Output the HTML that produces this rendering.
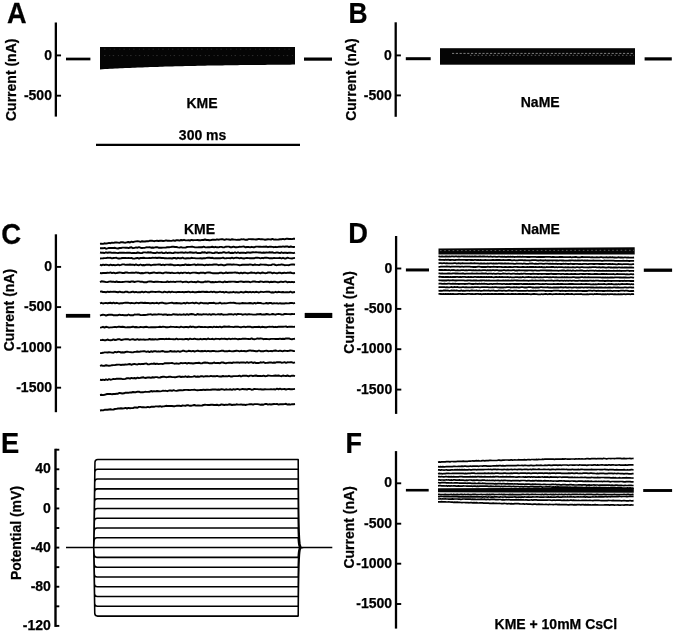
<!DOCTYPE html>
<html><head><meta charset="utf-8"><style>
html,body{margin:0;padding:0;background:#fff;}
svg{display:block;}
text{font-family:"Liberation Sans",sans-serif;font-weight:bold;fill:#000;stroke:#000;stroke-width:0.25px;}
svg{will-change:transform;}
</style></head><body>
<svg width="675" height="633" viewBox="0 0 675 633">
<text x="0" y="0" font-size="29" text-anchor="start" transform="translate(6.90 22.70) scale(0.935 1)">A</text>
<text x="0" y="0" font-size="29" text-anchor="start" transform="translate(348.40 22.50) scale(0.91 1)">B</text>
<text x="0" y="0" font-size="29" text-anchor="start" transform="translate(1.20 243.60) scale(0.95 1)">C</text>
<text x="0" y="0" font-size="29" text-anchor="start" transform="translate(348.30 242.90) scale(0.94 1)">D</text>
<text x="0" y="0" font-size="29" text-anchor="start" transform="translate(1.10 453.30) scale(0.94 1)">E</text>
<text x="0" y="0" font-size="29" text-anchor="start" transform="translate(345.40 452.90) scale(0.93 1)">F</text>
<line x1="55.85" y1="22.50" x2="55.85" y2="116.60" stroke="#000" stroke-width="2.3"/>
<line x1="55.85" y1="55.40" x2="61.05" y2="55.40" stroke="#000" stroke-width="1.9"/>
<text x="51.95" y="59.50" font-size="14" text-anchor="end">0</text>
<line x1="55.85" y1="95.70" x2="61.05" y2="95.70" stroke="#000" stroke-width="1.9"/>
<text x="51.95" y="99.80" font-size="14" text-anchor="end">-500</text>
<text x="16.20" y="79.80" font-size="14" text-anchor="middle" transform="rotate(-90 16.20 79.80)">Current (nA)</text>
<line x1="66.00" y1="59.00" x2="90.40" y2="59.00" stroke="#000" stroke-width="2.7"/>
<line x1="304.00" y1="59.10" x2="332.00" y2="59.10" stroke="#000" stroke-width="3.2"/>
<text x="202.00" y="107.50" font-size="14" text-anchor="middle">KME</text>
<text x="202.60" y="140.20" font-size="14" text-anchor="middle">300 ms</text>
<line x1="96.00" y1="144.80" x2="300.00" y2="144.80" stroke="#000" stroke-width="2.3"/>
<path d="M100,47 L295,47 L295.0,64.6 L292.5,64.6 L290.0,64.7 L287.5,64.7 L285.0,64.7 L282.5,64.7 L280.0,64.7 L277.5,64.8 L275.0,64.8 L272.5,64.8 L270.0,64.8 L267.5,64.8 L265.0,64.9 L262.5,64.9 L260.0,64.9 L257.5,64.9 L255.0,65.0 L252.5,65.0 L250.0,65.0 L247.5,65.0 L245.0,65.1 L242.5,65.1 L240.0,65.1 L237.5,65.2 L235.0,65.2 L232.5,65.2 L230.0,65.3 L227.5,65.3 L225.0,65.3 L222.5,65.4 L220.0,65.4 L217.5,65.5 L215.0,65.5 L212.5,65.5 L210.0,65.6 L207.5,65.6 L205.0,65.7 L202.5,65.7 L200.0,65.8 L197.5,65.8 L195.0,65.9 L192.5,65.9 L190.0,66.0 L187.5,66.0 L185.0,66.1 L182.5,66.2 L180.0,66.2 L177.5,66.3 L175.0,66.3 L172.5,66.4 L170.0,66.5 L167.5,66.6 L165.0,66.6 L162.5,66.7 L160.0,66.8 L157.5,66.9 L155.0,66.9 L152.5,67.0 L150.0,67.1 L147.5,67.2 L145.0,67.3 L142.5,67.4 L140.0,67.5 L137.5,67.6 L135.0,67.7 L132.5,67.8 L130.0,67.9 L127.5,68.0 L125.0,68.1 L122.5,68.2 L120.0,68.3 L117.5,68.4 L115.0,68.6 L112.5,68.7 L110.0,68.8 L107.5,69.0 L105.0,69.1 L102.5,69.3 L100.0,69.4 L100.0,69.4 Z" fill="#050505"/>
<line x1="104" y1="55.6" x2="294" y2="55.6" stroke="#fff" stroke-opacity="0.22" stroke-width="0.8" stroke-dasharray="1.5 3.7 1 2.5"/>
<line x1="104" y1="49.2" x2="294" y2="49.2" stroke="#fff" stroke-opacity="0.2" stroke-width="0.7" stroke-dasharray="1.5 4.2 1 3"/>
<line x1="395.70" y1="22.30" x2="395.70" y2="116.80" stroke="#000" stroke-width="2.3"/>
<line x1="395.70" y1="55.40" x2="400.90" y2="55.40" stroke="#000" stroke-width="1.9"/>
<text x="391.80" y="59.50" font-size="14" text-anchor="end">0</text>
<line x1="395.70" y1="95.40" x2="400.90" y2="95.40" stroke="#000" stroke-width="1.9"/>
<text x="391.80" y="99.50" font-size="14" text-anchor="end">-500</text>
<text x="356.30" y="79.60" font-size="14" text-anchor="middle" transform="rotate(-90 356.30 79.60)">Current (nA)</text>
<line x1="405.80" y1="58.70" x2="430.70" y2="58.70" stroke="#000" stroke-width="3.0"/>
<line x1="644.60" y1="58.90" x2="671.80" y2="58.90" stroke="#000" stroke-width="3.2"/>
<text x="540.20" y="107.40" font-size="14" text-anchor="middle">NaME</text>
<rect x="440" y="48.2" width="195" height="16.5" fill="#050505"/>
<line x1="452" y1="53.4" x2="634" y2="53.4" stroke="#fff" stroke-opacity="0.55" stroke-width="0.9" stroke-dasharray="2.2 1.6"/>
<line x1="470" y1="55.3" x2="634" y2="55.3" stroke="#fff" stroke-opacity="0.45" stroke-width="0.8" stroke-dasharray="1.6 2.2"/>
<line x1="55.90" y1="234.30" x2="55.90" y2="412.20" stroke="#000" stroke-width="2.3"/>
<line x1="55.90" y1="266.90" x2="61.10" y2="266.90" stroke="#000" stroke-width="1.9"/>
<text x="52.00" y="271.00" font-size="14" text-anchor="end">0</text>
<line x1="55.90" y1="307.10" x2="61.10" y2="307.10" stroke="#000" stroke-width="1.9"/>
<text x="52.00" y="311.20" font-size="14" text-anchor="end">-500</text>
<line x1="55.90" y1="347.40" x2="61.10" y2="347.40" stroke="#000" stroke-width="1.9"/>
<text x="52.00" y="351.50" font-size="14" text-anchor="end">-1000</text>
<line x1="55.90" y1="387.70" x2="61.10" y2="387.70" stroke="#000" stroke-width="1.9"/>
<text x="52.00" y="391.80" font-size="14" text-anchor="end">-1500</text>
<text x="13.90" y="310.10" font-size="14" text-anchor="middle" transform="rotate(-90 13.90 310.10)">Current (nA)</text>
<text x="199.50" y="234.00" font-size="14" text-anchor="middle">KME</text>
<line x1="65.90" y1="315.80" x2="90.20" y2="315.80" stroke="#000" stroke-width="3.8"/>
<line x1="304.70" y1="315.45" x2="332.30" y2="315.45" stroke="#000" stroke-width="5.1"/>
<polyline points="100.0,243.8 101.5,243.6 103.0,243.9 104.5,243.3 106.0,243.6 107.5,243.3 109.0,242.9 110.5,243.2 112.0,242.7 113.5,242.9 115.0,242.5 116.5,242.4 118.0,242.6 119.5,242.9 121.0,242.2 122.5,242.2 124.0,242.5 125.5,242.7 127.0,242.3 128.5,242.0 130.0,242.5 131.5,241.6 133.0,242.2 134.5,241.6 136.0,241.4 137.5,241.3 139.0,241.4 140.5,241.8 142.0,241.2 143.5,241.5 145.0,241.5 146.5,241.2 148.0,241.3 149.5,240.8 151.0,240.7 152.5,240.8 154.0,241.2 155.5,240.9 157.0,240.8 158.5,241.0 160.0,240.8 161.5,240.6 163.0,241.0 164.5,240.9 166.0,240.4 167.5,240.7 169.0,240.6 170.5,240.9 172.0,240.7 173.5,240.3 175.0,240.9 176.5,240.1 178.0,240.3 179.5,240.6 181.0,240.0 182.5,240.3 184.0,239.8 185.5,240.4 187.0,240.4 188.5,240.2 190.0,240.5 191.5,239.9 193.0,240.2 194.5,240.1 196.0,240.1 197.5,240.0 199.0,240.3 200.5,240.3 202.0,239.9 203.5,240.0 205.0,239.5 206.5,240.0 208.0,240.0 209.5,240.3 211.0,240.1 212.5,239.6 214.0,239.7 215.5,239.9 217.0,239.3 218.5,239.7 220.0,239.4 221.5,239.3 223.0,239.3 224.5,239.9 226.0,239.3 227.5,239.4 229.0,239.5 230.5,239.9 232.0,239.2 233.5,239.5 235.0,239.6 236.5,239.9 238.0,239.8 239.5,239.8 241.0,239.3 242.5,239.4 244.0,239.3 245.5,239.8 247.0,239.8 248.5,239.1 250.0,239.1 251.5,239.2 253.0,239.2 254.5,239.4 256.0,239.5 257.5,239.2 259.0,238.9 260.5,239.3 262.0,239.2 263.5,239.4 265.0,239.7 266.5,239.5 268.0,239.3 269.5,239.4 271.0,239.5 272.5,238.9 274.0,239.6 275.5,239.5 277.0,239.6 278.5,239.5 280.0,239.2 281.5,239.2 283.0,238.9 284.5,239.4 286.0,238.8 287.5,238.8 289.0,239.0 290.5,238.9 292.0,239.1 293.5,238.8 295.0,238.8" fill="none" stroke="#000" stroke-width="1.9" stroke-linejoin="round" />
<polyline points="100.0,248.2 101.5,248.1 103.0,248.3 104.5,247.9 106.0,248.7 107.5,248.4 109.0,247.9 110.5,248.0 112.0,248.0 113.5,248.0 115.0,247.8 116.5,248.4 118.0,248.5 119.5,248.0 121.0,248.0 122.5,247.6 124.0,247.6 125.5,247.7 127.0,247.6 128.5,248.1 130.0,247.5 131.5,247.3 133.0,248.2 134.5,247.8 136.0,247.4 137.5,247.7 139.0,247.2 140.5,247.7 142.0,248.0 143.5,247.9 145.0,247.7 146.5,247.3 148.0,247.4 149.5,247.2 151.0,247.7 152.5,247.5 154.0,247.7 155.5,247.3 157.0,247.2 158.5,247.7 160.0,247.8 161.5,247.7 163.0,247.6 164.5,247.6 166.0,247.5 167.5,247.1 169.0,247.3 170.5,247.1 172.0,246.8 173.5,246.8 175.0,247.0 176.5,247.0 178.0,247.4 179.5,247.6 181.0,247.1 182.5,247.6 184.0,247.6 185.5,247.6 187.0,247.0 188.5,246.9 190.0,246.9 191.5,246.8 193.0,246.8 194.5,247.2 196.0,247.4 197.5,247.4 199.0,247.1 200.5,247.2 202.0,247.3 203.5,246.7 205.0,247.2 206.5,247.4 208.0,247.3 209.5,247.2 211.0,247.0 212.5,246.7 214.0,247.3 215.5,246.8 217.0,247.3 218.5,247.4 220.0,246.9 221.5,246.9 223.0,247.4 224.5,247.2 226.0,246.7 227.5,246.6 229.0,246.6 230.5,247.3 232.0,247.2 233.5,246.6 235.0,247.2 236.5,247.3 238.0,247.1 239.5,246.8 241.0,246.9 242.5,246.6 244.0,246.5 245.5,247.3 247.0,247.0 248.5,246.9 250.0,247.3 251.5,246.8 253.0,247.2 254.5,247.2 256.0,246.6 257.5,246.6 259.0,246.7 260.5,246.6 262.0,246.9 263.5,246.6 265.0,246.8 266.5,246.5 268.0,247.2 269.5,246.7 271.0,246.8 272.5,246.9 274.0,247.2 275.5,246.8 277.0,247.2 278.5,246.8 280.0,246.8 281.5,246.8 283.0,246.4 284.5,246.8 286.0,246.5 287.5,246.4 289.0,247.1 290.5,246.5 292.0,246.8 293.5,247.0 295.0,246.9" fill="none" stroke="#000" stroke-width="1.9" stroke-linejoin="round" />
<polyline points="100.0,252.5 101.5,252.7 103.0,252.7 104.5,253.0 106.0,252.3 107.5,252.8 109.0,252.5 110.5,252.5 112.0,252.9 113.5,252.7 115.0,252.8 116.5,252.9 118.0,253.1 119.5,252.6 121.0,252.8 122.5,252.7 124.0,252.7 125.5,252.9 127.0,252.7 128.5,252.7 130.0,252.7 131.5,253.1 133.0,252.9 134.5,253.0 136.0,253.1 137.5,252.5 139.0,252.8 140.5,253.1 142.0,253.0 143.5,252.4 145.0,252.4 146.5,252.6 148.0,252.3 149.5,252.5 151.0,252.3 152.5,252.9 154.0,253.0 155.5,253.1 157.0,252.4 158.5,252.9 160.0,252.8 161.5,252.4 163.0,253.0 164.5,253.1 166.0,252.4 167.5,253.1 169.0,252.6 170.5,252.7 172.0,253.1 173.5,253.0 175.0,252.4 176.5,252.6 178.0,252.7 179.5,252.6 181.0,252.4 182.5,252.5 184.0,252.9 185.5,252.3 187.0,252.7 188.5,252.6 190.0,252.3 191.5,252.5 193.0,252.8 194.5,252.7 196.0,252.3 197.5,253.1 199.0,253.0 200.5,253.1 202.0,252.3 203.5,252.5 205.0,252.3 206.5,253.0 208.0,252.5 209.5,252.4 211.0,252.6 212.5,253.1 214.0,253.0 215.5,252.5 217.0,252.4 218.5,253.1 220.0,252.8 221.5,252.9 223.0,252.3 224.5,252.3 226.0,252.9 227.5,252.6 229.0,252.3 230.5,253.1 232.0,252.8 233.5,253.0 235.0,252.3 236.5,253.0 238.0,252.3 239.5,253.0 241.0,252.7 242.5,252.6 244.0,252.7 245.5,253.1 247.0,252.5 248.5,252.4 250.0,252.7 251.5,252.5 253.0,252.3 254.5,252.4 256.0,252.3 257.5,252.4 259.0,252.5 260.5,252.5 262.0,252.9 263.5,252.5 265.0,252.7 266.5,252.4 268.0,252.6 269.5,252.3 271.0,252.5 272.5,252.3 274.0,252.9 275.5,252.7 277.0,252.4 278.5,252.7 280.0,253.1 281.5,252.3 283.0,253.0 284.5,252.6 286.0,252.7 287.5,253.0 289.0,252.6 290.5,252.7 292.0,252.9 293.5,253.1 295.0,252.6" fill="none" stroke="#000" stroke-width="1.9" stroke-linejoin="round" />
<polyline points="100.0,258.5 101.5,258.4 103.0,258.3 104.5,258.1 106.0,258.1 107.5,257.8 109.0,257.9 110.5,257.8 112.0,258.4 113.5,258.0 115.0,257.9 116.5,257.8 118.0,258.5 119.5,258.5 121.0,258.3 122.5,258.0 124.0,257.9 125.5,258.0 127.0,258.1 128.5,257.9 130.0,258.1 131.5,257.9 133.0,258.6 134.5,258.6 136.0,258.2 137.5,257.9 139.0,258.6 140.5,258.0 142.0,258.0 143.5,257.7 145.0,258.0 146.5,258.1 148.0,258.1 149.5,257.9 151.0,258.1 152.5,257.7 154.0,257.9 155.5,257.8 157.0,258.0 158.5,257.7 160.0,257.7 161.5,258.0 163.0,257.9 164.5,258.2 166.0,258.2 167.5,258.4 169.0,258.3 170.5,258.3 172.0,258.5 173.5,258.0 175.0,258.0 176.5,258.6 178.0,257.8 179.5,258.3 181.0,258.3 182.5,257.7 184.0,258.4 185.5,258.5 187.0,258.2 188.5,258.3 190.0,258.4 191.5,257.8 193.0,258.1 194.5,258.1 196.0,258.4 197.5,258.4 199.0,258.4 200.5,258.2 202.0,258.5 203.5,258.3 205.0,258.3 206.5,257.9 208.0,257.7 209.5,257.8 211.0,258.0 212.5,257.8 214.0,258.4 215.5,258.2 217.0,258.2 218.5,258.2 220.0,258.3 221.5,258.1 223.0,257.7 224.5,258.4 226.0,258.3 227.5,258.1 229.0,258.1 230.5,258.3 232.0,257.7 233.5,258.3 235.0,257.9 236.5,257.7 238.0,257.9 239.5,258.3 241.0,257.8 242.5,258.3 244.0,258.5 245.5,258.1 247.0,258.0 248.5,258.1 250.0,258.3 251.5,258.3 253.0,258.2 254.5,258.2 256.0,257.7 257.5,257.8 259.0,257.9 260.5,258.3 262.0,257.9 263.5,258.2 265.0,257.7 266.5,257.7 268.0,257.9 269.5,258.3 271.0,258.3 272.5,258.3 274.0,257.9 275.5,258.1 277.0,258.1 278.5,258.1 280.0,257.8 281.5,258.5 283.0,257.8 284.5,258.5 286.0,258.5 287.5,257.7 289.0,258.1 290.5,258.4 292.0,258.5 293.5,258.1 295.0,257.9" fill="none" stroke="#000" stroke-width="1.9" stroke-linejoin="round" />
<polyline points="100.0,264.6 101.5,265.3 103.0,264.6 104.5,265.0 106.0,264.6 107.5,264.9 109.0,265.3 110.5,264.6 112.0,265.2 113.5,264.9 115.0,265.2 116.5,265.1 118.0,264.6 119.5,265.2 121.0,264.9 122.5,264.4 124.0,264.4 125.5,264.9 127.0,264.8 128.5,264.7 130.0,264.5 131.5,264.7 133.0,264.7 134.5,265.2 136.0,264.4 137.5,265.1 139.0,265.2 140.5,264.5 142.0,265.2 143.5,265.0 145.0,265.2 146.5,264.7 148.0,264.7 149.5,264.7 151.0,265.3 152.5,264.9 154.0,264.7 155.5,264.8 157.0,264.6 158.5,264.4 160.0,264.5 161.5,265.1 163.0,264.6 164.5,265.2 166.0,264.6 167.5,264.6 169.0,264.8 170.5,264.5 172.0,264.7 173.5,265.2 175.0,265.2 176.5,265.1 178.0,264.9 179.5,265.2 181.0,265.2 182.5,264.9 184.0,265.0 185.5,264.4 187.0,265.0 188.5,264.8 190.0,265.0 191.5,264.9 193.0,264.6 194.5,264.4 196.0,265.2 197.5,264.5 199.0,264.8 200.5,264.7 202.0,264.6 203.5,265.0 205.0,265.2 206.5,264.6 208.0,265.0 209.5,264.6 211.0,264.9 212.5,264.7 214.0,264.5 215.5,264.5 217.0,264.5 218.5,265.2 220.0,264.8 221.5,264.6 223.0,265.2 224.5,265.3 226.0,264.8 227.5,264.5 229.0,264.5 230.5,264.4 232.0,264.7 233.5,264.4 235.0,264.6 236.5,264.6 238.0,264.9 239.5,265.2 241.0,265.0 242.5,264.7 244.0,264.7 245.5,264.8 247.0,264.7 248.5,264.7 250.0,264.4 251.5,264.6 253.0,265.2 254.5,264.5 256.0,264.8 257.5,264.9 259.0,265.1 260.5,264.5 262.0,264.6 263.5,264.6 265.0,264.7 266.5,264.8 268.0,265.2 269.5,265.1 271.0,265.1 272.5,264.4 274.0,264.4 275.5,265.0 277.0,265.2 278.5,264.8 280.0,264.9 281.5,264.4 283.0,264.7 284.5,265.2 286.0,265.1 287.5,265.1 289.0,265.2 290.5,264.6 292.0,264.4 293.5,264.5 295.0,264.8" fill="none" stroke="#000" stroke-width="1.9" stroke-linejoin="round" />
<polyline points="100.0,273.0 101.5,273.2 103.0,273.0 104.5,272.9 106.0,273.0 107.5,272.8 109.0,272.9 110.5,272.4 112.0,273.1 113.5,272.6 115.0,273.2 116.5,273.0 118.0,272.7 119.5,272.5 121.0,272.6 122.5,273.0 124.0,273.0 125.5,272.5 127.0,272.5 128.5,272.9 130.0,272.9 131.5,272.7 133.0,272.6 134.5,272.9 136.0,272.4 137.5,272.7 139.0,272.8 140.5,273.3 142.0,273.0 143.5,273.2 145.0,272.8 146.5,272.6 148.0,272.6 149.5,273.3 151.0,273.0 152.5,272.7 154.0,272.4 155.5,272.9 157.0,273.0 158.5,272.8 160.0,272.6 161.5,273.0 163.0,273.3 164.5,272.6 166.0,272.5 167.5,272.7 169.0,272.8 170.5,273.0 172.0,272.6 173.5,273.1 175.0,273.1 176.5,272.9 178.0,272.6 179.5,273.3 181.0,272.7 182.5,273.2 184.0,272.6 185.5,272.6 187.0,273.1 188.5,272.7 190.0,273.3 191.5,272.9 193.0,272.6 194.5,272.6 196.0,272.8 197.5,273.0 199.0,273.3 200.5,272.6 202.0,272.8 203.5,272.6 205.0,273.3 206.5,272.6 208.0,272.5 209.5,272.5 211.0,272.8 212.5,273.2 214.0,273.2 215.5,273.1 217.0,273.3 218.5,273.3 220.0,272.7 221.5,272.6 223.0,273.3 224.5,273.1 226.0,272.5 227.5,273.0 229.0,272.8 230.5,272.8 232.0,272.7 233.5,272.6 235.0,272.4 236.5,272.7 238.0,272.8 239.5,273.3 241.0,272.6 242.5,273.3 244.0,272.6 245.5,272.8 247.0,273.2 248.5,273.2 250.0,272.8 251.5,272.5 253.0,272.9 254.5,272.8 256.0,273.3 257.5,272.6 259.0,272.8 260.5,273.3 262.0,272.5 263.5,272.8 265.0,273.2 266.5,273.1 268.0,272.5 269.5,272.5 271.0,272.5 272.5,273.3 274.0,272.7 275.5,273.1 277.0,273.3 278.5,272.8 280.0,272.7 281.5,273.3 283.0,273.0 284.5,272.7 286.0,273.1 287.5,272.7 289.0,272.7 290.5,272.5 292.0,273.1 293.5,273.3 295.0,273.0" fill="none" stroke="#000" stroke-width="1.9" stroke-linejoin="round" />
<polyline points="100.0,282.1 101.5,281.3 103.0,281.5 104.5,281.7 106.0,282.1 107.5,282.1 109.0,281.6 110.5,281.5 112.0,281.7 113.5,281.7 115.0,282.1 116.5,281.5 118.0,282.0 119.5,282.0 121.0,282.1 122.5,282.0 124.0,281.9 125.5,281.6 127.0,281.6 128.5,281.7 130.0,282.0 131.5,281.4 133.0,281.5 134.5,282.0 136.0,281.6 137.5,281.4 139.0,281.4 140.5,281.8 142.0,281.6 143.5,282.2 145.0,282.2 146.5,282.3 148.0,281.6 149.5,281.4 151.0,281.5 152.5,281.8 154.0,282.0 155.5,281.8 157.0,281.6 158.5,281.8 160.0,281.9 161.5,282.0 163.0,282.1 164.5,282.1 166.0,282.0 167.5,281.5 169.0,282.1 170.5,281.7 172.0,281.9 173.5,281.7 175.0,282.1 176.5,281.6 178.0,281.6 179.5,281.6 181.0,281.5 182.5,282.2 184.0,281.9 185.5,281.7 187.0,281.8 188.5,282.3 190.0,281.9 191.5,281.6 193.0,282.1 194.5,282.0 196.0,282.3 197.5,281.5 199.0,281.8 200.5,282.2 202.0,282.2 203.5,282.2 205.0,281.5 206.5,281.7 208.0,281.5 209.5,281.6 211.0,282.3 212.5,282.0 214.0,282.3 215.5,281.8 217.0,282.2 218.5,281.8 220.0,281.7 221.5,282.1 223.0,282.3 224.5,281.5 226.0,282.0 227.5,282.0 229.0,281.6 230.5,281.8 232.0,281.6 233.5,281.6 235.0,281.7 236.5,282.0 238.0,282.0 239.5,281.6 241.0,281.4 242.5,281.7 244.0,282.0 245.5,281.6 247.0,281.7 248.5,281.6 250.0,282.2 251.5,281.9 253.0,281.5 254.5,281.5 256.0,281.8 257.5,281.9 259.0,282.0 260.5,281.5 262.0,281.6 263.5,282.1 265.0,281.8 266.5,281.7 268.0,281.7 269.5,282.3 271.0,281.7 272.5,282.0 274.0,281.8 275.5,281.8 277.0,282.2 278.5,282.3 280.0,281.8 281.5,281.6 283.0,282.1 284.5,281.6 286.0,281.5 287.5,282.3 289.0,281.8 290.5,282.2 292.0,281.8 293.5,282.2 295.0,281.9" fill="none" stroke="#000" stroke-width="1.9" stroke-linejoin="round" />
<polyline points="100.0,291.6 101.5,291.5 103.0,292.0 104.5,292.0 106.0,292.3 107.5,291.6 109.0,292.0 110.5,291.8 112.0,291.9 113.5,291.6 115.0,291.8 116.5,292.0 118.0,292.3 119.5,291.6 121.0,292.0 122.5,292.2 124.0,292.4 125.5,291.7 127.0,291.6 128.5,292.4 130.0,292.4 131.5,292.0 133.0,291.6 134.5,292.4 136.0,291.9 137.5,292.4 139.0,292.1 140.5,292.3 142.0,291.7 143.5,292.3 145.0,291.8 146.5,291.9 148.0,292.3 149.5,292.3 151.0,291.7 152.5,291.8 154.0,291.9 155.5,292.0 157.0,291.9 158.5,291.7 160.0,291.8 161.5,292.2 163.0,292.4 164.5,291.6 166.0,292.1 167.5,292.3 169.0,291.6 170.5,292.3 172.0,291.7 173.5,292.1 175.0,292.1 176.5,292.2 178.0,291.9 179.5,292.0 181.0,292.1 182.5,292.0 184.0,292.2 185.5,292.0 187.0,292.0 188.5,291.6 190.0,292.2 191.5,292.1 193.0,291.8 194.5,292.3 196.0,292.3 197.5,292.0 199.0,291.8 200.5,292.0 202.0,291.7 203.5,291.7 205.0,292.0 206.5,291.7 208.0,292.0 209.5,292.1 211.0,291.7 212.5,292.2 214.0,291.7 215.5,292.3 217.0,292.3 218.5,292.1 220.0,291.7 221.5,292.1 223.0,292.0 224.5,292.5 226.0,291.8 227.5,292.4 229.0,292.5 230.5,292.3 232.0,292.4 233.5,291.8 235.0,292.5 236.5,292.1 238.0,292.5 239.5,292.5 241.0,291.8 242.5,292.3 244.0,292.5 245.5,291.7 247.0,292.0 248.5,292.3 250.0,291.8 251.5,292.4 253.0,291.9 254.5,292.4 256.0,291.8 257.5,292.1 259.0,292.5 260.5,291.8 262.0,291.9 263.5,292.1 265.0,291.9 266.5,291.7 268.0,291.8 269.5,291.8 271.0,292.5 272.5,292.3 274.0,292.5 275.5,291.8 277.0,292.4 278.5,291.8 280.0,292.1 281.5,292.2 283.0,292.0 284.5,292.4 286.0,292.1 287.5,292.2 289.0,292.4 290.5,291.7 292.0,292.5 293.5,292.2 295.0,292.0" fill="none" stroke="#000" stroke-width="1.9" stroke-linejoin="round" />
<polyline points="100.0,303.3 101.5,302.8 103.0,303.5 104.5,303.1 106.0,302.9 107.5,303.3 109.0,303.0 110.5,302.7 112.0,303.3 113.5,302.6 115.0,303.3 116.5,302.8 118.0,303.2 119.5,303.5 121.0,303.1 122.5,303.2 124.0,302.9 125.5,302.6 127.0,302.7 128.5,302.8 130.0,303.2 131.5,303.0 133.0,303.1 134.5,303.4 136.0,302.8 137.5,302.9 139.0,303.2 140.5,302.7 142.0,302.7 143.5,303.0 145.0,302.8 146.5,303.0 148.0,302.9 149.5,303.2 151.0,303.2 152.5,302.9 154.0,303.2 155.5,303.1 157.0,302.8 158.5,303.5 160.0,302.9 161.5,302.8 163.0,302.8 164.5,303.3 166.0,303.5 167.5,303.4 169.0,303.1 170.5,302.9 172.0,302.7 173.5,303.3 175.0,303.2 176.5,303.0 178.0,303.3 179.5,303.1 181.0,303.5 182.5,303.4 184.0,302.9 185.5,303.5 187.0,302.7 188.5,303.2 190.0,303.1 191.5,302.9 193.0,302.8 194.5,303.4 196.0,302.7 197.5,303.2 199.0,303.6 200.5,302.8 202.0,302.9 203.5,303.3 205.0,303.2 206.5,303.3 208.0,303.5 209.5,302.9 211.0,303.0 212.5,303.0 214.0,302.8 215.5,303.5 217.0,303.4 218.5,303.4 220.0,302.7 221.5,303.5 223.0,303.4 224.5,303.2 226.0,303.4 227.5,303.1 229.0,302.9 230.5,302.8 232.0,302.9 233.5,302.8 235.0,303.0 236.5,303.4 238.0,303.4 239.5,303.5 241.0,303.4 242.5,303.0 244.0,303.2 245.5,303.1 247.0,303.4 248.5,303.2 250.0,303.0 251.5,303.3 253.0,303.6 254.5,302.9 256.0,303.5 257.5,302.8 259.0,303.0 260.5,303.0 262.0,303.4 263.5,303.6 265.0,303.4 266.5,303.0 268.0,303.5 269.5,303.0 271.0,303.0 272.5,303.6 274.0,303.3 275.5,303.4 277.0,303.3 278.5,303.6 280.0,303.2 281.5,303.5 283.0,303.4 284.5,303.5 286.0,303.1 287.5,303.4 289.0,303.3 290.5,303.0 292.0,302.9 293.5,303.3 295.0,302.8" fill="none" stroke="#000" stroke-width="1.9" stroke-linejoin="round" />
<polyline points="100.0,315.7 101.5,315.0 103.0,314.8 104.5,314.9 106.0,315.6 107.5,315.0 109.0,314.8 110.5,314.7 112.0,314.7 113.5,315.3 115.0,315.2 116.5,315.2 118.0,315.2 119.5,314.6 121.0,315.1 122.5,314.9 124.0,315.2 125.5,315.2 127.0,315.3 128.5,314.5 130.0,315.2 131.5,315.2 133.0,315.3 134.5,314.5 136.0,314.6 137.5,314.5 139.0,314.4 140.5,315.1 142.0,315.1 143.5,314.9 145.0,315.0 146.5,314.9 148.0,314.5 149.5,314.4 151.0,314.3 152.5,314.9 154.0,314.4 155.5,314.5 157.0,314.6 158.5,314.2 160.0,314.4 161.5,314.4 163.0,314.8 164.5,314.5 166.0,314.4 167.5,315.0 169.0,314.6 170.5,314.9 172.0,314.7 173.5,314.1 175.0,314.5 176.5,314.5 178.0,314.8 179.5,314.4 181.0,314.7 182.5,314.6 184.0,314.3 185.5,314.8 187.0,314.1 188.5,314.8 190.0,314.2 191.5,314.0 193.0,314.2 194.5,314.7 196.0,314.9 197.5,314.0 199.0,314.5 200.5,314.4 202.0,314.7 203.5,314.2 205.0,314.4 206.5,314.3 208.0,314.7 209.5,314.2 211.0,314.8 212.5,314.2 214.0,314.2 215.5,314.6 217.0,314.4 218.5,314.1 220.0,314.5 221.5,314.0 223.0,314.7 224.5,314.6 226.0,314.6 227.5,314.5 229.0,314.3 230.5,314.3 232.0,314.3 233.5,314.7 235.0,314.0 236.5,314.7 238.0,313.9 239.5,314.1 241.0,314.1 242.5,314.7 244.0,314.4 245.5,314.2 247.0,314.7 248.5,314.1 250.0,314.3 251.5,314.4 253.0,314.6 254.5,314.6 256.0,314.5 257.5,314.2 259.0,314.2 260.5,314.0 262.0,314.6 263.5,314.5 265.0,314.5 266.5,314.0 268.0,314.3 269.5,314.6 271.0,314.4 272.5,314.0 274.0,314.3 275.5,314.7 277.0,314.1 278.5,314.0 280.0,314.1 281.5,314.5 283.0,314.6 284.5,314.0 286.0,314.0 287.5,314.1 289.0,314.1 290.5,314.3 292.0,314.0 293.5,314.1 295.0,314.0" fill="none" stroke="#000" stroke-width="1.9" stroke-linejoin="round" />
<polyline points="100.0,327.6 101.5,327.4 103.0,326.8 104.5,327.6 106.0,326.8 107.5,327.1 109.0,327.6 110.5,327.4 112.0,327.4 113.5,327.1 115.0,326.9 116.5,327.2 118.0,326.8 119.5,326.8 121.0,327.0 122.5,326.7 124.0,327.0 125.5,327.4 127.0,327.3 128.5,327.1 130.0,327.2 131.5,327.0 133.0,326.7 134.5,327.2 136.0,327.0 137.5,327.3 139.0,327.4 140.5,327.0 142.0,327.1 143.5,327.3 145.0,327.0 146.5,326.8 148.0,327.2 149.5,327.4 151.0,327.3 152.5,327.2 154.0,327.3 155.5,327.2 157.0,327.1 158.5,327.0 160.0,326.8 161.5,327.1 163.0,326.6 164.5,326.9 166.0,327.2 167.5,327.2 169.0,327.1 170.5,326.8 172.0,326.9 173.5,326.9 175.0,327.1 176.5,326.9 178.0,327.1 179.5,327.4 181.0,326.7 182.5,327.1 184.0,327.2 185.5,326.9 187.0,327.0 188.5,327.4 190.0,326.5 191.5,327.0 193.0,326.6 194.5,327.2 196.0,327.3 197.5,327.0 199.0,326.6 200.5,327.0 202.0,327.0 203.5,327.1 205.0,327.0 206.5,327.1 208.0,327.2 209.5,327.0 211.0,326.9 212.5,327.3 214.0,326.7 215.5,327.1 217.0,326.8 218.5,327.2 220.0,326.6 221.5,327.4 223.0,326.8 224.5,326.5 226.0,326.7 227.5,326.8 229.0,326.5 230.5,326.9 232.0,326.9 233.5,327.1 235.0,326.8 236.5,326.7 238.0,326.7 239.5,327.1 241.0,327.3 242.5,326.9 244.0,326.7 245.5,327.2 247.0,326.8 248.5,326.7 250.0,326.6 251.5,327.2 253.0,327.2 254.5,327.0 256.0,326.9 257.5,327.0 259.0,326.7 260.5,327.3 262.0,326.8 263.5,327.0 265.0,327.2 266.5,327.2 268.0,326.9 269.5,326.7 271.0,326.9 272.5,326.6 274.0,327.2 275.5,326.8 277.0,327.2 278.5,326.7 280.0,326.8 281.5,326.7 283.0,326.8 284.5,326.6 286.0,326.5 287.5,327.1 289.0,326.7 290.5,326.7 292.0,326.7 293.5,326.9 295.0,326.8" fill="none" stroke="#000" stroke-width="1.9" stroke-linejoin="round" />
<polyline points="100.0,340.1 101.5,340.1 103.0,339.8 104.5,340.3 106.0,340.2 107.5,339.5 109.0,340.1 110.5,340.2 112.0,340.0 113.5,339.4 115.0,340.0 116.5,339.8 118.0,339.2 119.5,339.2 121.0,340.0 122.5,339.7 124.0,339.4 125.5,339.2 127.0,339.2 128.5,339.3 130.0,339.8 131.5,339.4 133.0,339.2 134.5,339.8 136.0,339.7 137.5,339.1 139.0,339.8 140.5,339.5 142.0,339.6 143.5,339.5 145.0,339.7 146.5,339.6 148.0,339.6 149.5,339.0 151.0,339.5 152.5,339.3 154.0,339.5 155.5,339.2 157.0,339.6 158.5,339.3 160.0,339.0 161.5,339.0 163.0,338.9 164.5,339.2 166.0,338.8 167.5,339.1 169.0,338.8 170.5,339.1 172.0,339.1 173.5,339.2 175.0,339.4 176.5,338.7 178.0,339.4 179.5,339.1 181.0,339.1 182.5,339.2 184.0,339.4 185.5,338.9 187.0,339.0 188.5,339.5 190.0,338.6 191.5,339.1 193.0,339.1 194.5,338.6 196.0,339.1 197.5,339.2 199.0,339.4 200.5,338.8 202.0,339.4 203.5,339.0 205.0,339.0 206.5,339.3 208.0,338.5 209.5,339.1 211.0,339.1 212.5,338.8 214.0,339.3 215.5,338.8 217.0,338.9 218.5,338.9 220.0,339.2 221.5,338.7 223.0,338.9 224.5,338.8 226.0,339.0 227.5,339.2 229.0,338.7 230.5,339.2 232.0,338.8 233.5,338.9 235.0,338.7 236.5,338.9 238.0,339.3 239.5,339.0 241.0,339.1 242.5,338.7 244.0,338.7 245.5,338.7 247.0,338.9 248.5,339.0 250.0,339.1 251.5,338.4 253.0,339.0 254.5,339.2 256.0,338.9 257.5,338.4 259.0,338.7 260.5,338.4 262.0,338.6 263.5,339.2 265.0,338.9 266.5,339.0 268.0,339.1 269.5,339.2 271.0,338.9 272.5,338.9 274.0,338.9 275.5,339.0 277.0,338.9 278.5,339.0 280.0,338.6 281.5,339.0 283.0,338.8 284.5,339.0 286.0,338.4 287.5,338.5 289.0,338.4 290.5,339.1 292.0,339.2 293.5,338.9 295.0,338.7" fill="none" stroke="#000" stroke-width="1.9" stroke-linejoin="round" />
<polyline points="100.0,353.1 101.5,353.0 103.0,352.8 104.5,352.4 106.0,352.4 107.5,352.5 109.0,352.3 110.5,352.4 112.0,352.6 113.5,352.8 115.0,351.9 116.5,352.4 118.0,351.8 119.5,351.9 121.0,352.5 122.5,352.2 124.0,352.5 125.5,352.0 127.0,351.6 128.5,351.9 130.0,352.1 131.5,352.3 133.0,352.4 134.5,351.9 136.0,351.8 137.5,351.5 139.0,351.9 140.5,351.5 142.0,351.4 143.5,351.3 145.0,351.3 146.5,351.8 148.0,351.3 149.5,352.1 151.0,351.2 152.5,351.9 154.0,351.2 155.5,351.1 157.0,351.7 158.5,351.3 160.0,351.7 161.5,351.2 163.0,351.0 164.5,351.7 166.0,351.6 167.5,351.7 169.0,351.6 170.5,351.0 172.0,351.5 173.5,351.5 175.0,351.3 176.5,351.7 178.0,351.1 179.5,351.7 181.0,351.5 182.5,350.8 184.0,350.8 185.5,351.4 187.0,351.5 188.5,350.8 190.0,351.0 191.5,351.4 193.0,350.9 194.5,351.5 196.0,351.1 197.5,350.7 199.0,351.0 200.5,351.2 202.0,351.0 203.5,351.2 205.0,350.8 206.5,351.3 208.0,350.9 209.5,351.2 211.0,351.2 212.5,351.0 214.0,350.9 215.5,351.3 217.0,351.4 218.5,351.3 220.0,351.1 221.5,350.8 223.0,350.6 224.5,351.4 226.0,351.2 227.5,351.3 229.0,350.8 230.5,351.1 232.0,351.4 233.5,351.2 235.0,351.0 236.5,350.8 238.0,350.9 239.5,351.3 241.0,350.8 242.5,351.1 244.0,351.0 245.5,351.3 247.0,351.2 248.5,350.7 250.0,350.4 251.5,350.7 253.0,350.8 254.5,351.0 256.0,351.2 257.5,351.2 259.0,350.5 260.5,351.2 262.0,351.1 263.5,351.2 265.0,350.9 266.5,350.6 268.0,351.2 269.5,351.1 271.0,351.0 272.5,351.2 274.0,350.7 275.5,350.5 277.0,350.9 278.5,351.1 280.0,350.6 281.5,351.0 283.0,351.2 284.5,350.6 286.0,350.9 287.5,351.0 289.0,350.8 290.5,350.5 292.0,350.6 293.5,351.0 295.0,351.1" fill="none" stroke="#000" stroke-width="1.9" stroke-linejoin="round" />
<polyline points="100.0,365.8 101.5,365.3 103.0,365.9 104.5,365.8 106.0,365.2 107.5,365.5 109.0,365.7 110.5,365.6 112.0,365.2 113.5,365.1 115.0,365.1 116.5,364.7 118.0,364.6 119.5,364.6 121.0,365.0 122.5,364.6 124.0,364.7 125.5,364.5 127.0,364.6 128.5,364.2 130.0,364.0 131.5,364.8 133.0,364.2 134.5,363.9 136.0,364.4 137.5,364.5 139.0,363.8 140.5,364.2 142.0,363.9 143.5,364.0 145.0,363.6 146.5,363.5 148.0,364.4 149.5,364.2 151.0,363.8 152.5,363.9 154.0,363.5 155.5,364.0 157.0,363.6 158.5,364.1 160.0,363.9 161.5,363.9 163.0,364.0 164.5,363.3 166.0,363.1 167.5,363.2 169.0,363.2 170.5,363.1 172.0,363.0 173.5,363.4 175.0,363.7 176.5,363.3 178.0,363.7 179.5,363.6 181.0,362.9 182.5,363.3 184.0,363.1 185.5,362.9 187.0,363.6 188.5,362.9 190.0,363.2 191.5,363.2 193.0,363.5 194.5,363.2 196.0,363.0 197.5,363.0 199.0,362.7 200.5,363.4 202.0,363.4 203.5,362.7 205.0,362.5 206.5,362.7 208.0,362.8 209.5,363.3 211.0,363.3 212.5,363.2 214.0,362.5 215.5,363.1 217.0,363.0 218.5,363.0 220.0,363.3 221.5,362.4 223.0,362.5 224.5,363.0 226.0,363.2 227.5,362.9 229.0,362.6 230.5,362.8 232.0,363.0 233.5,362.4 235.0,362.6 236.5,362.5 238.0,362.4 239.5,362.7 241.0,362.4 242.5,362.5 244.0,362.4 245.5,362.8 247.0,362.2 248.5,362.9 250.0,362.4 251.5,362.2 253.0,363.0 254.5,362.4 256.0,363.0 257.5,362.9 259.0,363.0 260.5,362.3 262.0,362.6 263.5,362.2 265.0,363.0 266.5,362.9 268.0,362.7 269.5,362.5 271.0,362.4 272.5,362.9 274.0,362.5 275.5,362.7 277.0,362.2 278.5,362.3 280.0,362.1 281.5,362.7 283.0,362.6 284.5,362.2 286.0,362.9 287.5,362.3 289.0,362.4 290.5,362.2 292.0,362.3 293.5,362.8 295.0,362.4" fill="none" stroke="#000" stroke-width="1.9" stroke-linejoin="round" />
<polyline points="100.0,379.8 101.5,380.0 103.0,379.7 104.5,380.1 106.0,379.3 107.5,380.0 109.0,379.1 110.5,379.7 112.0,379.4 113.5,378.9 115.0,379.1 116.5,378.8 118.0,378.7 119.5,378.6 121.0,378.7 122.5,379.1 124.0,379.1 125.5,378.9 127.0,378.1 128.5,378.2 130.0,378.7 131.5,377.9 133.0,378.4 134.5,378.0 136.0,378.5 137.5,377.6 139.0,378.2 140.5,377.8 142.0,377.5 143.5,377.3 145.0,378.0 146.5,377.7 148.0,377.4 149.5,377.5 151.0,377.9 152.5,377.2 154.0,377.5 155.5,377.1 157.0,377.1 158.5,377.6 160.0,377.5 161.5,377.0 163.0,376.8 164.5,376.8 166.0,377.2 167.5,377.1 169.0,376.8 170.5,376.7 172.0,377.1 173.5,377.1 175.0,377.2 176.5,377.0 178.0,376.6 179.5,376.4 181.0,377.0 182.5,376.7 184.0,376.9 185.5,376.3 187.0,377.0 188.5,376.5 190.0,376.9 191.5,376.9 193.0,376.6 194.5,376.1 196.0,376.9 197.5,376.5 199.0,376.8 200.5,376.3 202.0,376.2 203.5,376.7 205.0,376.3 206.5,376.1 208.0,376.3 209.5,376.4 211.0,375.9 212.5,376.3 214.0,376.2 215.5,376.3 217.0,375.9 218.5,376.4 220.0,376.5 221.5,376.5 223.0,376.0 224.5,376.4 226.0,376.1 227.5,376.4 229.0,375.8 230.5,376.5 232.0,376.5 233.5,376.1 235.0,376.1 236.5,376.1 238.0,376.1 239.5,375.6 241.0,376.5 242.5,375.8 244.0,375.7 245.5,375.7 247.0,375.8 248.5,376.3 250.0,375.6 251.5,375.6 253.0,376.2 254.5,375.7 256.0,375.5 257.5,376.0 259.0,376.0 260.5,376.0 262.0,376.1 263.5,375.6 265.0,376.2 266.5,376.1 268.0,375.5 269.5,375.6 271.0,375.9 272.5,375.9 274.0,375.7 275.5,375.5 277.0,375.8 278.5,375.5 280.0,375.9 281.5,376.2 283.0,375.5 284.5,375.9 286.0,376.0 287.5,375.5 289.0,376.1 290.5,376.2 292.0,375.7 293.5,375.7 295.0,376.1" fill="none" stroke="#000" stroke-width="1.9" stroke-linejoin="round" />
<polyline points="100.0,395.0 101.5,394.8 103.0,395.1 104.5,394.8 106.0,394.3 107.5,394.0 109.0,394.0 110.5,393.9 112.0,394.3 113.5,394.0 115.0,394.0 116.5,393.8 118.0,393.7 119.5,392.9 121.0,393.2 122.5,393.5 124.0,393.3 125.5,392.6 127.0,392.7 128.5,392.8 130.0,392.4 131.5,392.5 133.0,392.0 134.5,392.2 136.0,392.2 137.5,391.7 139.0,391.7 140.5,392.4 142.0,392.1 143.5,392.2 145.0,391.8 146.5,391.9 148.0,391.9 149.5,391.8 151.0,391.0 152.5,391.5 154.0,391.1 155.5,391.4 157.0,391.0 158.5,391.2 160.0,391.4 161.5,391.1 163.0,390.7 164.5,390.9 166.0,390.8 167.5,391.2 169.0,390.5 170.5,390.5 172.0,390.8 173.5,390.2 175.0,390.6 176.5,390.9 178.0,390.5 179.5,390.2 181.0,390.3 182.5,390.4 184.0,390.0 185.5,389.9 187.0,389.9 188.5,390.0 190.0,390.1 191.5,389.9 193.0,389.9 194.5,389.7 196.0,390.1 197.5,390.3 199.0,390.1 200.5,390.0 202.0,390.0 203.5,389.6 205.0,390.0 206.5,389.8 208.0,389.8 209.5,389.9 211.0,389.7 212.5,389.5 214.0,389.5 215.5,389.4 217.0,389.7 218.5,389.5 220.0,389.7 221.5,389.1 223.0,389.4 224.5,389.9 226.0,389.3 227.5,389.6 229.0,389.5 230.5,389.3 232.0,389.9 233.5,389.2 235.0,389.7 236.5,389.1 238.0,389.0 239.5,389.7 241.0,389.3 242.5,388.9 244.0,389.2 245.5,389.3 247.0,389.5 248.5,388.9 250.0,389.0 251.5,389.7 253.0,389.5 254.5,388.9 256.0,389.1 257.5,389.1 259.0,389.4 260.5,389.3 262.0,389.5 263.5,389.5 265.0,389.2 266.5,389.4 268.0,389.4 269.5,389.4 271.0,389.1 272.5,389.4 274.0,389.3 275.5,389.5 277.0,388.7 278.5,389.4 280.0,388.6 281.5,389.3 283.0,389.1 284.5,389.0 286.0,389.5 287.5,389.1 289.0,389.0 290.5,389.3 292.0,389.3 293.5,389.1 295.0,388.9" fill="none" stroke="#000" stroke-width="1.9" stroke-linejoin="round" />
<polyline points="100.0,410.5 101.5,410.3 103.0,410.4 104.5,409.8 106.0,409.8 107.5,409.8 109.0,409.5 110.5,409.3 112.0,409.6 113.5,409.5 115.0,409.0 116.5,408.9 118.0,408.5 119.5,408.5 121.0,408.2 122.5,408.5 124.0,408.4 125.5,407.9 127.0,408.5 128.5,407.9 130.0,408.2 131.5,408.1 133.0,408.1 134.5,407.4 136.0,407.5 137.5,407.8 139.0,406.9 140.5,406.9 142.0,407.3 143.5,407.1 145.0,407.4 146.5,407.2 148.0,406.9 149.5,407.3 151.0,406.8 152.5,406.7 154.0,406.8 155.5,406.4 157.0,406.4 158.5,406.5 160.0,406.2 161.5,406.7 163.0,406.4 164.5,406.2 166.0,405.8 167.5,406.0 169.0,405.9 170.5,406.0 172.0,406.0 173.5,406.2 175.0,406.2 176.5,405.8 178.0,405.7 179.5,405.8 181.0,406.1 182.5,405.5 184.0,405.6 185.5,405.8 187.0,405.2 188.5,405.3 190.0,405.8 191.5,405.7 193.0,405.3 194.5,405.0 196.0,405.6 197.5,405.4 199.0,405.5 200.5,405.6 202.0,405.5 203.5,405.0 205.0,404.8 206.5,404.9 208.0,405.0 209.5,405.0 211.0,404.7 212.5,404.7 214.0,405.0 215.5,405.0 217.0,404.7 218.5,405.3 220.0,405.0 221.5,404.4 223.0,404.7 224.5,405.0 226.0,404.6 227.5,404.9 229.0,404.3 230.5,404.5 232.0,405.0 233.5,404.7 235.0,404.8 236.5,404.3 238.0,404.6 239.5,404.6 241.0,404.4 242.5,404.7 244.0,404.6 245.5,405.0 247.0,404.6 248.5,404.4 250.0,404.1 251.5,404.2 253.0,404.7 254.5,404.1 256.0,404.1 257.5,404.1 259.0,404.4 260.5,404.7 262.0,404.5 263.5,404.7 265.0,404.0 266.5,403.9 268.0,404.6 269.5,404.2 271.0,404.5 272.5,404.2 274.0,404.0 275.5,404.1 277.0,403.9 278.5,404.6 280.0,404.3 281.5,404.1 283.0,404.2 284.5,404.1 286.0,403.8 287.5,404.6 289.0,404.3 290.5,404.6 292.0,404.2 293.5,404.3 295.0,404.0" fill="none" stroke="#000" stroke-width="1.9" stroke-linejoin="round" />
<line x1="396.10" y1="236.00" x2="396.10" y2="413.90" stroke="#000" stroke-width="2.3"/>
<line x1="396.10" y1="268.50" x2="401.30" y2="268.50" stroke="#000" stroke-width="1.9"/>
<text x="392.20" y="272.60" font-size="14" text-anchor="end">0</text>
<line x1="396.10" y1="308.90" x2="401.30" y2="308.90" stroke="#000" stroke-width="1.9"/>
<text x="392.20" y="313.00" font-size="14" text-anchor="end">-500</text>
<line x1="396.10" y1="349.20" x2="401.30" y2="349.20" stroke="#000" stroke-width="1.9"/>
<text x="392.20" y="353.30" font-size="14" text-anchor="end">-1000</text>
<line x1="396.10" y1="389.60" x2="401.30" y2="389.60" stroke="#000" stroke-width="1.9"/>
<text x="392.20" y="393.70" font-size="14" text-anchor="end">-1500</text>
<text x="354.40" y="312.40" font-size="14" text-anchor="middle" transform="rotate(-90 354.40 312.40)">Current (nA)</text>
<text x="540.50" y="233.70" font-size="14" text-anchor="middle">NaME</text>
<line x1="405.90" y1="269.95" x2="429.00" y2="269.95" stroke="#000" stroke-width="3.0"/>
<line x1="643.80" y1="270.20" x2="672.10" y2="270.20" stroke="#000" stroke-width="3.3"/>
<path d="M438.5,248.4 L634.7,247.2 L634.7,254.6 L438.5,254.6 Z" fill="#050505"/>
<line x1="440" y1="250.6" x2="634" y2="250.3" stroke="#fff" stroke-opacity="0.45" stroke-width="0.8" stroke-dasharray="1.6 2.6"/>
<polyline points="438.5,256.2 439.7,256.6 440.9,256.6 442.1,256.3 443.3,256.6 444.5,256.6 445.7,256.4 446.9,256.5 448.1,256.6 449.3,256.5 450.5,256.6 451.7,256.4 452.9,256.4 454.1,256.6 455.3,256.4 456.5,256.4 457.7,256.7 458.9,256.5 460.1,256.6 461.3,256.4 462.5,256.4 463.7,256.5 464.9,256.4 466.1,256.7 467.3,256.5 468.5,256.6 469.7,256.4 470.9,256.6 472.1,256.5 473.3,256.6 474.5,256.4 475.7,256.5 476.9,256.7 478.1,256.6 479.3,256.5 480.5,256.5 481.7,256.6 482.9,256.5 484.1,256.5 485.3,256.7 486.5,256.6 487.7,256.5 488.9,256.8 490.1,256.5 491.3,256.6 492.5,256.8 493.7,256.6 494.9,256.7 496.1,256.9 497.3,256.9 498.5,256.6 499.7,256.7 500.9,256.8 502.1,256.7 503.3,256.9 504.5,256.7 505.7,257.0 506.9,256.8 508.1,256.7 509.3,256.8 510.5,256.7 511.7,256.9 512.9,256.7 514.1,257.0 515.3,256.9 516.5,256.8 517.7,256.7 518.9,256.9 520.1,256.7 521.3,257.0 522.5,256.7 523.7,256.9 524.9,256.9 526.1,256.8 527.3,257.0 528.5,256.9 529.7,257.0 530.9,256.9 532.1,256.8 533.3,256.9 534.5,256.8 535.7,256.8 536.9,257.1 538.1,256.9 539.3,257.0 540.5,256.8 541.7,257.0 542.9,256.9 544.1,257.0 545.3,256.9 546.5,256.8 547.7,256.9 548.9,256.9 550.1,256.9 551.3,257.1 552.5,257.0 553.7,257.0 554.9,257.2 556.1,257.2 557.3,257.2 558.5,257.2 559.7,256.9 560.9,257.0 562.1,256.9 563.3,257.2 564.5,257.2 565.7,257.1 566.9,257.1 568.1,257.2 569.3,257.2 570.5,257.0 571.7,257.3 572.9,257.1 574.1,257.2 575.3,257.0 576.5,257.0 577.7,257.3 578.9,257.3 580.1,257.3 581.3,257.0 582.5,257.0 583.7,257.1 584.9,257.1 586.1,257.1 587.3,257.2 588.5,257.1 589.7,257.2 590.9,257.3 592.1,257.1 593.3,257.4 594.5,257.3 595.7,257.4 596.9,257.2 598.1,257.3 599.3,257.4 600.5,257.2 601.7,257.1 602.9,257.5 604.1,257.4 605.3,257.3 606.5,257.2 607.7,257.5 608.9,257.4 610.1,257.2 611.3,257.3 612.5,257.2 613.7,257.5 614.9,257.3 616.1,257.6 617.3,257.5 618.5,257.2 619.7,257.5 620.9,257.4 622.1,257.5 623.3,257.6 624.5,257.4 625.7,257.3 626.9,257.6 628.1,257.4 629.3,257.6 630.5,257.6 631.7,257.6 632.9,257.6 634.1,257.5" fill="none" stroke="#000" stroke-width="1.8" stroke-linejoin="round" />
<polyline points="438.5,259.8 439.7,259.6 440.9,259.9 442.1,259.8 443.3,259.8 444.5,260.0 445.7,259.7 446.9,260.0 448.1,259.7 449.3,260.0 450.5,260.0 451.7,259.8 452.9,259.9 454.1,260.1 455.3,260.0 456.5,259.9 457.7,259.8 458.9,259.7 460.1,259.9 461.3,259.9 462.5,259.8 463.7,259.9 464.9,259.8 466.1,260.0 467.3,260.0 468.5,259.9 469.7,259.9 470.9,260.0 472.1,260.0 473.3,260.2 474.5,259.9 475.7,259.9 476.9,260.2 478.1,259.9 479.3,260.1 480.5,260.0 481.7,260.2 482.9,260.1 484.1,260.2 485.3,259.9 486.5,260.1 487.7,260.1 488.9,260.1 490.1,260.2 491.3,260.2 492.5,259.9 493.7,260.0 494.9,260.1 496.1,260.0 497.3,260.0 498.5,260.0 499.7,260.0 500.9,260.2 502.1,260.1 503.3,260.0 504.5,260.1 505.7,260.2 506.9,260.1 508.1,260.0 509.3,260.0 510.5,260.0 511.7,260.4 512.9,260.3 514.1,260.0 515.3,260.3 516.5,260.4 517.7,260.3 518.9,260.1 520.1,260.2 521.3,260.2 522.5,260.1 523.7,260.3 524.9,260.1 526.1,260.4 527.3,260.3 528.5,260.3 529.7,260.5 530.9,260.4 532.1,260.2 533.3,260.2 534.5,260.2 535.7,260.1 536.9,260.4 538.1,260.5 539.3,260.3 540.5,260.2 541.7,260.4 542.9,260.5 544.1,260.5 545.3,260.2 546.5,260.5 547.7,260.5 548.9,260.5 550.1,260.3 551.3,260.3 552.5,260.5 553.7,260.3 554.9,260.4 556.1,260.5 557.3,260.4 558.5,260.6 559.7,260.3 560.9,260.3 562.1,260.5 563.3,260.5 564.5,260.6 565.7,260.6 566.9,260.7 568.1,260.7 569.3,260.5 570.5,260.5 571.7,260.4 572.9,260.4 574.1,260.6 575.3,260.4 576.5,260.6 577.7,260.4 578.9,260.5 580.1,260.7 581.3,260.4 582.5,260.4 583.7,260.6 584.9,260.5 586.1,260.7 587.3,260.4 588.5,260.7 589.7,260.7 590.9,260.7 592.1,260.6 593.3,260.5 594.5,260.7 595.7,260.6 596.9,260.6 598.1,260.6 599.3,260.6 600.5,260.7 601.7,260.8 602.9,260.8 604.1,260.5 605.3,260.6 606.5,260.7 607.7,260.7 608.9,260.6 610.1,260.6 611.3,260.6 612.5,260.7 613.7,260.7 614.9,260.9 616.1,260.9 617.3,260.9 618.5,260.9 619.7,260.9 620.9,260.8 622.1,260.9 623.3,260.6 624.5,260.9 625.7,260.8 626.9,260.7 628.1,260.8 629.3,261.0 630.5,260.8 631.7,260.9 632.9,260.8 634.1,260.8" fill="none" stroke="#000" stroke-width="1.8" stroke-linejoin="round" />
<polyline points="438.5,263.4 439.7,263.1 440.9,263.1 442.1,263.3 443.3,263.2 444.5,263.1 445.7,263.3 446.9,263.2 448.1,263.3 449.3,263.3 450.5,263.3 451.7,263.3 452.9,263.3 454.1,263.2 455.3,263.2 456.5,263.5 457.7,263.4 458.9,263.2 460.1,263.5 461.3,263.3 462.5,263.2 463.7,263.4 464.9,263.3 466.1,263.4 467.3,263.4 468.5,263.3 469.7,263.4 470.9,263.2 472.1,263.4 473.3,263.4 474.5,263.2 475.7,263.4 476.9,263.3 478.1,263.4 479.3,263.6 480.5,263.5 481.7,263.5 482.9,263.6 484.1,263.3 485.3,263.7 486.5,263.6 487.7,263.3 488.9,263.6 490.1,263.4 491.3,263.4 492.5,263.7 493.7,263.5 494.9,263.6 496.1,263.4 497.3,263.6 498.5,263.4 499.7,263.4 500.9,263.5 502.1,263.4 503.3,263.6 504.5,263.4 505.7,263.5 506.9,263.7 508.1,263.5 509.3,263.7 510.5,263.6 511.7,263.7 512.9,263.6 514.1,263.8 515.3,263.8 516.5,263.5 517.7,263.7 518.9,263.6 520.1,263.7 521.3,263.7 522.5,263.8 523.7,263.5 524.9,263.6 526.1,263.8 527.3,263.8 528.5,263.8 529.7,263.5 530.9,263.7 532.1,263.5 533.3,263.7 534.5,263.8 535.7,263.6 536.9,263.9 538.1,263.8 539.3,263.6 540.5,263.6 541.7,263.7 542.9,263.9 544.1,263.8 545.3,263.6 546.5,263.6 547.7,263.6 548.9,263.9 550.1,263.6 551.3,263.8 552.5,263.7 553.7,263.9 554.9,263.8 556.1,263.7 557.3,264.0 558.5,263.8 559.7,263.9 560.9,264.0 562.1,264.0 563.3,263.6 564.5,263.8 565.7,263.7 566.9,263.9 568.1,264.0 569.3,264.0 570.5,263.7 571.7,263.8 572.9,264.0 574.1,264.0 575.3,263.9 576.5,263.9 577.7,263.8 578.9,264.1 580.1,263.9 581.3,264.1 582.5,264.0 583.7,263.8 584.9,263.9 586.1,263.8 587.3,264.1 588.5,264.0 589.7,263.8 590.9,263.8 592.1,263.9 593.3,264.0 594.5,264.0 595.7,263.9 596.9,263.9 598.1,263.8 599.3,264.0 600.5,264.0 601.7,263.8 602.9,264.0 604.1,264.2 605.3,263.9 606.5,263.9 607.7,264.1 608.9,264.0 610.1,264.0 611.3,264.1 612.5,264.0 613.7,264.1 614.9,264.1 616.1,264.3 617.3,264.3 618.5,263.9 619.7,264.1 620.9,264.2 622.1,264.3 623.3,264.2 624.5,264.2 625.7,264.2 626.9,264.1 628.1,264.1 629.3,264.3 630.5,264.3 631.7,264.3 632.9,264.2 634.1,264.1" fill="none" stroke="#000" stroke-width="1.8" stroke-linejoin="round" />
<polyline points="438.5,266.8 439.7,266.8 440.9,266.7 442.1,266.7 443.3,266.6 444.5,266.7 445.7,266.7 446.9,266.5 448.1,266.6 449.3,266.6 450.5,266.9 451.7,266.7 452.9,266.7 454.1,266.6 455.3,266.6 456.5,266.7 457.7,266.6 458.9,266.6 460.1,266.9 461.3,266.7 462.5,266.7 463.7,266.8 464.9,266.7 466.1,266.6 467.3,266.6 468.5,266.7 469.7,266.7 470.9,266.9 472.1,266.8 473.3,267.0 474.5,266.8 475.7,267.0 476.9,266.9 478.1,266.7 479.3,266.7 480.5,266.9 481.7,267.0 482.9,266.8 484.1,267.0 485.3,266.8 486.5,267.0 487.7,266.7 488.9,266.9 490.1,267.0 491.3,266.8 492.5,266.8 493.7,266.7 494.9,266.8 496.1,266.8 497.3,267.0 498.5,266.8 499.7,266.9 500.9,266.8 502.1,267.0 503.3,267.1 504.5,267.0 505.7,266.8 506.9,267.1 508.1,267.2 509.3,267.0 510.5,266.8 511.7,267.1 512.9,267.1 514.1,266.9 515.3,266.9 516.5,266.9 517.7,267.0 518.9,267.2 520.1,267.1 521.3,267.2 522.5,266.9 523.7,267.0 524.9,267.1 526.1,267.1 527.3,267.0 528.5,267.1 529.7,267.0 530.9,266.9 532.1,267.0 533.3,266.9 534.5,267.1 535.7,267.0 536.9,267.1 538.1,267.1 539.3,267.0 540.5,267.1 541.7,266.9 542.9,267.3 544.1,267.1 545.3,267.3 546.5,267.0 547.7,267.2 548.9,267.2 550.1,267.1 551.3,267.0 552.5,267.0 553.7,267.0 554.9,267.3 556.1,267.0 557.3,267.3 558.5,267.2 559.7,267.2 560.9,267.2 562.1,267.2 563.3,267.3 564.5,267.3 565.7,267.2 566.9,267.3 568.1,267.1 569.3,267.3 570.5,267.3 571.7,267.4 572.9,267.2 574.1,267.4 575.3,267.5 576.5,267.2 577.7,267.2 578.9,267.3 580.1,267.5 581.3,267.1 582.5,267.1 583.7,267.3 584.9,267.4 586.1,267.4 587.3,267.3 588.5,267.5 589.7,267.2 590.9,267.4 592.1,267.2 593.3,267.2 594.5,267.2 595.7,267.2 596.9,267.4 598.1,267.4 599.3,267.2 600.5,267.5 601.7,267.3 602.9,267.2 604.1,267.3 605.3,267.5 606.5,267.6 607.7,267.3 608.9,267.2 610.1,267.5 611.3,267.3 612.5,267.6 613.7,267.4 614.9,267.5 616.1,267.4 617.3,267.6 618.5,267.4 619.7,267.4 620.9,267.6 622.1,267.3 623.3,267.6 624.5,267.3 625.7,267.5 626.9,267.4 628.1,267.6 629.3,267.3 630.5,267.5 631.7,267.5 632.9,267.7 634.1,267.7" fill="none" stroke="#000" stroke-width="1.8" stroke-linejoin="round" />
<polyline points="438.5,270.1 439.7,270.0 440.9,270.0 442.1,270.0 443.3,270.1 444.5,270.0 445.7,270.0 446.9,270.2 448.1,270.2 449.3,270.0 450.5,270.3 451.7,270.0 452.9,270.2 454.1,270.0 455.3,270.3 456.5,270.3 457.7,270.1 458.9,270.3 460.1,270.3 461.3,270.1 462.5,270.1 463.7,270.2 464.9,270.3 466.1,270.1 467.3,270.3 468.5,270.2 469.7,270.2 470.9,270.2 472.1,270.4 473.3,270.1 474.5,270.4 475.7,270.2 476.9,270.3 478.1,270.4 479.3,270.1 480.5,270.4 481.7,270.4 482.9,270.2 484.1,270.1 485.3,270.1 486.5,270.5 487.7,270.1 488.9,270.4 490.1,270.1 491.3,270.4 492.5,270.1 493.7,270.2 494.9,270.4 496.1,270.1 497.3,270.2 498.5,270.5 499.7,270.4 500.9,270.5 502.1,270.5 503.3,270.2 504.5,270.2 505.7,270.5 506.9,270.4 508.1,270.2 509.3,270.4 510.5,270.3 511.7,270.3 512.9,270.2 514.1,270.2 515.3,270.6 516.5,270.3 517.7,270.5 518.9,270.2 520.1,270.4 521.3,270.3 522.5,270.4 523.7,270.3 524.9,270.5 526.1,270.3 527.3,270.5 528.5,270.4 529.7,270.3 530.9,270.4 532.1,270.5 533.3,270.6 534.5,270.4 535.7,270.4 536.9,270.7 538.1,270.6 539.3,270.6 540.5,270.4 541.7,270.4 542.9,270.4 544.1,270.3 545.3,270.3 546.5,270.5 547.7,270.5 548.9,270.5 550.1,270.5 551.3,270.3 552.5,270.6 553.7,270.6 554.9,270.6 556.1,270.6 557.3,270.6 558.5,270.8 559.7,270.7 560.9,270.7 562.1,270.5 563.3,270.5 564.5,270.5 565.7,270.8 566.9,270.5 568.1,270.5 569.3,270.6 570.5,270.5 571.7,270.8 572.9,270.4 574.1,270.7 575.3,270.8 576.5,270.5 577.7,270.7 578.9,270.6 580.1,270.5 581.3,270.5 582.5,270.5 583.7,270.8 584.9,270.8 586.1,270.8 587.3,270.5 588.5,270.8 589.7,270.6 590.9,270.7 592.1,270.7 593.3,270.6 594.5,270.9 595.7,270.5 596.9,270.8 598.1,270.9 599.3,270.7 600.5,270.8 601.7,270.9 602.9,270.6 604.1,270.8 605.3,270.8 606.5,270.7 607.7,270.8 608.9,270.7 610.1,270.8 611.3,270.8 612.5,270.8 613.7,270.7 614.9,270.8 616.1,270.8 617.3,270.7 618.5,270.8 619.7,270.7 620.9,271.0 622.1,270.8 623.3,270.9 624.5,270.8 625.7,270.8 626.9,270.7 628.1,270.7 629.3,271.0 630.5,270.9 631.7,270.9 632.9,270.9 634.1,271.0" fill="none" stroke="#000" stroke-width="1.8" stroke-linejoin="round" />
<polyline points="438.5,273.4 439.7,273.4 440.9,273.6 442.1,273.5 443.3,273.6 444.5,273.7 445.7,273.7 446.9,273.7 448.1,273.4 449.3,273.5 450.5,273.7 451.7,273.7 452.9,273.4 454.1,273.4 455.3,273.5 456.5,273.4 457.7,273.5 458.9,273.7 460.1,273.6 461.3,273.6 462.5,273.4 463.7,273.5 464.9,273.8 466.1,273.7 467.3,273.6 468.5,273.6 469.7,273.7 470.9,273.7 472.1,273.5 473.3,273.7 474.5,273.6 475.7,273.6 476.9,273.5 478.1,273.6 479.3,273.6 480.5,273.6 481.7,273.5 482.9,273.5 484.1,273.7 485.3,273.5 486.5,273.5 487.7,273.8 488.9,273.6 490.1,273.6 491.3,273.6 492.5,273.8 493.7,273.5 494.9,273.8 496.1,273.8 497.3,273.6 498.5,273.7 499.7,273.8 500.9,273.8 502.1,273.7 503.3,273.5 504.5,273.7 505.7,273.7 506.9,273.8 508.1,273.7 509.3,273.7 510.5,273.8 511.7,273.9 512.9,273.7 514.1,273.7 515.3,273.8 516.5,273.9 517.7,273.7 518.9,274.0 520.1,273.9 521.3,273.7 522.5,273.9 523.7,273.7 524.9,273.6 526.1,273.9 527.3,273.8 528.5,273.8 529.7,273.8 530.9,274.0 532.1,273.9 533.3,273.6 534.5,273.9 535.7,273.8 536.9,273.8 538.1,274.0 539.3,273.8 540.5,273.9 541.7,274.0 542.9,273.8 544.1,273.9 545.3,273.9 546.5,274.0 547.7,274.0 548.9,274.0 550.1,273.9 551.3,273.7 552.5,274.0 553.7,273.9 554.9,274.0 556.1,274.0 557.3,273.8 558.5,273.8 559.7,273.8 560.9,274.1 562.1,273.8 563.3,273.8 564.5,274.1 565.7,274.0 566.9,273.8 568.1,274.0 569.3,274.1 570.5,274.0 571.7,273.8 572.9,274.1 574.1,274.0 575.3,274.0 576.5,274.2 577.7,274.1 578.9,274.2 580.1,273.9 581.3,273.9 582.5,274.0 583.7,273.8 584.9,274.2 586.1,273.9 587.3,273.9 588.5,274.0 589.7,273.9 590.9,274.2 592.1,274.1 593.3,274.1 594.5,274.0 595.7,273.9 596.9,274.0 598.1,274.2 599.3,274.2 600.5,274.2 601.7,274.0 602.9,274.0 604.1,273.9 605.3,274.1 606.5,274.0 607.7,274.1 608.9,274.1 610.1,274.1 611.3,274.1 612.5,274.2 613.7,274.0 614.9,274.3 616.1,274.2 617.3,274.0 618.5,274.1 619.7,274.2 620.9,274.1 622.1,274.2 623.3,274.1 624.5,274.1 625.7,274.3 626.9,274.1 628.1,274.3 629.3,274.3 630.5,274.2 631.7,274.2 632.9,274.4 634.1,274.2" fill="none" stroke="#000" stroke-width="1.8" stroke-linejoin="round" />
<polyline points="438.5,277.1 439.7,276.7 440.9,276.9 442.1,277.0 443.3,276.8 444.5,277.1 445.7,276.8 446.9,277.0 448.1,276.8 449.3,277.1 450.5,277.0 451.7,277.1 452.9,277.0 454.1,277.0 455.3,277.0 456.5,276.9 457.7,276.9 458.9,277.1 460.1,276.8 461.3,277.2 462.5,276.9 463.7,276.8 464.9,276.8 466.1,277.1 467.3,277.2 468.5,277.0 469.7,277.1 470.9,276.9 472.1,277.2 473.3,277.1 474.5,276.9 475.7,276.9 476.9,277.1 478.1,276.9 479.3,277.2 480.5,277.0 481.7,276.9 482.9,277.1 484.1,277.0 485.3,277.1 486.5,276.9 487.7,277.2 488.9,277.0 490.1,277.2 491.3,276.9 492.5,277.2 493.7,277.3 494.9,277.1 496.1,276.9 497.3,277.1 498.5,277.2 499.7,277.0 500.9,277.1 502.1,277.0 503.3,277.1 504.5,277.2 505.7,277.1 506.9,277.2 508.1,277.0 509.3,277.3 510.5,277.0 511.7,277.3 512.9,277.4 514.1,277.3 515.3,277.2 516.5,277.1 517.7,277.1 518.9,277.3 520.1,277.2 521.3,277.4 522.5,277.0 523.7,277.2 524.9,277.3 526.1,277.2 527.3,277.2 528.5,277.0 529.7,277.1 530.9,277.1 532.1,277.4 533.3,277.4 534.5,277.1 535.7,277.4 536.9,277.0 538.1,277.3 539.3,277.4 540.5,277.2 541.7,277.4 542.9,277.3 544.1,277.1 545.3,277.2 546.5,277.2 547.7,277.2 548.9,277.4 550.1,277.1 551.3,277.4 552.5,277.2 553.7,277.1 554.9,277.3 556.1,277.1 557.3,277.3 558.5,277.4 559.7,277.3 560.9,277.3 562.1,277.1 563.3,277.3 564.5,277.2 565.7,277.4 566.9,277.2 568.1,277.4 569.3,277.3 570.5,277.3 571.7,277.4 572.9,277.2 574.1,277.2 575.3,277.5 576.5,277.3 577.7,277.5 578.9,277.5 580.1,277.4 581.3,277.2 582.5,277.2 583.7,277.5 584.9,277.2 586.1,277.4 587.3,277.4 588.5,277.2 589.7,277.4 590.9,277.3 592.1,277.4 593.3,277.4 594.5,277.4 595.7,277.3 596.9,277.4 598.1,277.3 599.3,277.3 600.5,277.3 601.7,277.6 602.9,277.4 604.1,277.6 605.3,277.3 606.5,277.6 607.7,277.5 608.9,277.6 610.1,277.5 611.3,277.5 612.5,277.4 613.7,277.6 614.9,277.3 616.1,277.4 617.3,277.3 618.5,277.4 619.7,277.5 620.9,277.4 622.1,277.7 623.3,277.3 624.5,277.5 625.7,277.4 626.9,277.6 628.1,277.6 629.3,277.6 630.5,277.4 631.7,277.4 632.9,277.6 634.1,277.7" fill="none" stroke="#000" stroke-width="1.8" stroke-linejoin="round" />
<polyline points="438.5,280.2 439.7,280.4 440.9,280.4 442.1,280.5 443.3,280.3 444.5,280.5 445.7,280.3 446.9,280.5 448.1,280.2 449.3,280.5 450.5,280.3 451.7,280.3 452.9,280.2 454.1,280.3 455.3,280.5 456.5,280.5 457.7,280.3 458.9,280.3 460.1,280.3 461.3,280.3 462.5,280.3 463.7,280.3 464.9,280.6 466.1,280.6 467.3,280.5 468.5,280.4 469.7,280.4 470.9,280.5 472.1,280.6 473.3,280.5 474.5,280.5 475.7,280.3 476.9,280.5 478.1,280.6 479.3,280.6 480.5,280.3 481.7,280.5 482.9,280.4 484.1,280.3 485.3,280.7 486.5,280.5 487.7,280.6 488.9,280.3 490.1,280.6 491.3,280.7 492.5,280.7 493.7,280.6 494.9,280.6 496.1,280.6 497.3,280.5 498.5,280.5 499.7,280.6 500.9,280.6 502.1,280.7 503.3,280.4 504.5,280.7 505.7,280.5 506.9,280.7 508.1,280.4 509.3,280.7 510.5,280.7 511.7,280.4 512.9,280.7 514.1,280.4 515.3,280.4 516.5,280.5 517.7,280.5 518.9,280.6 520.1,280.7 521.3,280.6 522.5,280.7 523.7,280.5 524.9,280.7 526.1,280.7 527.3,280.7 528.5,280.8 529.7,280.7 530.9,280.6 532.1,280.4 533.3,280.7 534.5,280.7 535.7,280.5 536.9,280.6 538.1,280.7 539.3,280.7 540.5,280.4 541.7,280.6 542.9,280.4 544.1,280.5 545.3,280.8 546.5,280.6 547.7,280.7 548.9,280.6 550.1,280.6 551.3,280.5 552.5,280.6 553.7,280.8 554.9,280.7 556.1,280.6 557.3,280.5 558.5,280.6 559.7,280.8 560.9,280.7 562.1,280.7 563.3,280.8 564.5,280.5 565.7,280.8 566.9,280.5 568.1,280.8 569.3,280.6 570.5,280.6 571.7,280.9 572.9,280.7 574.1,280.6 575.3,280.9 576.5,280.8 577.7,280.9 578.9,280.7 580.1,280.7 581.3,280.9 582.5,280.7 583.7,280.9 584.9,280.6 586.1,280.9 587.3,280.6 588.5,280.8 589.7,280.6 590.9,280.6 592.1,280.9 593.3,280.7 594.5,280.9 595.7,280.7 596.9,280.7 598.1,280.6 599.3,280.8 600.5,280.9 601.7,280.8 602.9,280.7 604.1,281.0 605.3,281.0 606.5,280.9 607.7,280.6 608.9,280.9 610.1,280.8 611.3,281.0 612.5,280.8 613.7,280.9 614.9,280.9 616.1,280.8 617.3,280.8 618.5,280.9 619.7,281.0 620.9,280.8 622.1,280.8 623.3,281.0 624.5,280.7 625.7,281.0 626.9,280.9 628.1,280.9 629.3,280.8 630.5,281.0 631.7,281.0 632.9,281.0 634.1,281.0" fill="none" stroke="#000" stroke-width="1.8" stroke-linejoin="round" />
<polyline points="438.5,283.6 439.7,283.7 440.9,283.6 442.1,283.9 443.3,283.9 444.5,283.6 445.7,283.8 446.9,283.8 448.1,283.6 449.3,283.7 450.5,283.9 451.7,283.8 452.9,283.7 454.1,283.9 455.3,283.7 456.5,283.8 457.7,283.8 458.9,284.0 460.1,283.9 461.3,283.9 462.5,283.9 463.7,283.8 464.9,284.0 466.1,283.9 467.3,283.9 468.5,283.7 469.7,283.7 470.9,283.9 472.1,284.0 473.3,284.0 474.5,283.8 475.7,283.7 476.9,283.9 478.1,284.0 479.3,283.7 480.5,284.0 481.7,283.7 482.9,283.8 484.1,283.7 485.3,283.8 486.5,283.8 487.7,284.1 488.9,284.1 490.1,283.8 491.3,283.8 492.5,284.1 493.7,283.8 494.9,283.8 496.1,283.9 497.3,283.7 498.5,283.8 499.7,283.9 500.9,283.9 502.1,284.1 503.3,283.8 504.5,283.8 505.7,284.1 506.9,283.9 508.1,284.1 509.3,284.0 510.5,284.0 511.7,283.9 512.9,283.8 514.1,284.0 515.3,283.9 516.5,284.0 517.7,284.0 518.9,284.0 520.1,283.9 521.3,283.9 522.5,284.1 523.7,284.0 524.9,283.9 526.1,284.0 527.3,283.9 528.5,284.1 529.7,283.8 530.9,284.1 532.1,284.0 533.3,283.9 534.5,284.2 535.7,283.9 536.9,283.9 538.1,283.8 539.3,284.0 540.5,284.1 541.7,284.1 542.9,284.0 544.1,284.1 545.3,283.9 546.5,283.9 547.7,284.1 548.9,284.2 550.1,284.1 551.3,284.1 552.5,284.1 553.7,284.0 554.9,284.2 556.1,284.1 557.3,284.0 558.5,284.0 559.7,284.2 560.9,284.0 562.1,283.9 563.3,284.2 564.5,284.1 565.7,284.1 566.9,284.1 568.1,284.2 569.3,283.9 570.5,284.0 571.7,283.9 572.9,284.0 574.1,284.1 575.3,284.2 576.5,284.2 577.7,284.1 578.9,284.1 580.1,284.1 581.3,284.0 582.5,284.2 583.7,284.2 584.9,284.2 586.1,284.0 587.3,284.2 588.5,284.2 589.7,284.1 590.9,284.3 592.1,284.3 593.3,284.2 594.5,284.3 595.7,284.2 596.9,284.3 598.1,284.0 599.3,284.2 600.5,284.2 601.7,284.2 602.9,284.1 604.1,284.0 605.3,284.2 606.5,284.3 607.7,284.1 608.9,284.0 610.1,284.1 611.3,284.0 612.5,284.2 613.7,284.4 614.9,284.3 616.1,284.1 617.3,284.3 618.5,284.0 619.7,284.3 620.9,284.1 622.1,284.0 623.3,284.2 624.5,284.1 625.7,284.1 626.9,284.0 628.1,284.2 629.3,284.2 630.5,284.3 631.7,284.0 632.9,284.3 634.1,284.1" fill="none" stroke="#000" stroke-width="1.8" stroke-linejoin="round" />
<polyline points="438.5,287.1 439.7,287.2 440.9,287.1 442.1,287.1 443.3,287.2 444.5,287.1 445.7,287.3 446.9,287.1 448.1,287.3 449.3,287.3 450.5,287.2 451.7,287.0 452.9,287.3 454.1,287.0 455.3,287.2 456.5,287.2 457.7,287.0 458.9,287.3 460.1,287.3 461.3,287.3 462.5,287.2 463.7,287.2 464.9,287.3 466.1,287.1 467.3,287.4 468.5,287.4 469.7,287.4 470.9,287.4 472.1,287.2 473.3,287.4 474.5,287.1 475.7,287.2 476.9,287.1 478.1,287.2 479.3,287.3 480.5,287.3 481.7,287.2 482.9,287.2 484.1,287.1 485.3,287.2 486.5,287.2 487.7,287.2 488.9,287.4 490.1,287.3 491.3,287.3 492.5,287.2 493.7,287.4 494.9,287.2 496.1,287.2 497.3,287.3 498.5,287.4 499.7,287.5 500.9,287.4 502.1,287.5 503.3,287.5 504.5,287.4 505.7,287.4 506.9,287.1 508.1,287.2 509.3,287.1 510.5,287.5 511.7,287.4 512.9,287.4 514.1,287.2 515.3,287.3 516.5,287.2 517.7,287.4 518.9,287.5 520.1,287.3 521.3,287.2 522.5,287.2 523.7,287.3 524.9,287.5 526.1,287.5 527.3,287.3 528.5,287.2 529.7,287.2 530.9,287.2 532.1,287.5 533.3,287.4 534.5,287.6 535.7,287.5 536.9,287.5 538.1,287.4 539.3,287.5 540.5,287.2 541.7,287.2 542.9,287.4 544.1,287.4 545.3,287.3 546.5,287.3 547.7,287.2 548.9,287.6 550.1,287.5 551.3,287.6 552.5,287.6 553.7,287.4 554.9,287.5 556.1,287.4 557.3,287.5 558.5,287.5 559.7,287.3 560.9,287.2 562.1,287.3 563.3,287.5 564.5,287.4 565.7,287.2 566.9,287.6 568.1,287.5 569.3,287.4 570.5,287.3 571.7,287.6 572.9,287.5 574.1,287.3 575.3,287.4 576.5,287.5 577.7,287.6 578.9,287.4 580.1,287.5 581.3,287.3 582.5,287.4 583.7,287.6 584.9,287.4 586.1,287.3 587.3,287.5 588.5,287.3 589.7,287.4 590.9,287.5 592.1,287.5 593.3,287.5 594.5,287.6 595.7,287.5 596.9,287.3 598.1,287.6 599.3,287.3 600.5,287.5 601.7,287.5 602.9,287.6 604.1,287.6 605.3,287.4 606.5,287.6 607.7,287.6 608.9,287.5 610.1,287.4 611.3,287.7 612.5,287.6 613.7,287.3 614.9,287.4 616.1,287.7 617.3,287.4 618.5,287.5 619.7,287.6 620.9,287.7 622.1,287.6 623.3,287.6 624.5,287.4 625.7,287.4 626.9,287.7 628.1,287.7 629.3,287.4 630.5,287.4 631.7,287.5 632.9,287.7 634.1,287.4" fill="none" stroke="#000" stroke-width="1.8" stroke-linejoin="round" />
<polyline points="438.5,290.7 439.7,290.8 440.9,290.7 442.1,290.8 443.3,290.5 444.5,290.5 445.7,290.4 446.9,290.7 448.1,290.5 449.3,290.8 450.5,290.7 451.7,290.5 452.9,290.7 454.1,290.5 455.3,290.6 456.5,290.5 457.7,290.7 458.9,290.8 460.1,290.8 461.3,290.4 462.5,290.8 463.7,290.7 464.9,290.8 466.1,290.6 467.3,290.7 468.5,290.7 469.7,290.8 470.9,290.5 472.1,290.5 473.3,290.7 474.5,290.6 475.7,290.6 476.9,290.5 478.1,290.8 479.3,290.5 480.5,290.8 481.7,290.8 482.9,290.7 484.1,290.5 485.3,290.7 486.5,290.6 487.7,290.6 488.9,290.5 490.1,290.9 491.3,290.7 492.5,290.6 493.7,290.5 494.9,290.8 496.1,290.8 497.3,290.8 498.5,290.5 499.7,290.6 500.9,290.6 502.1,290.8 503.3,290.6 504.5,290.7 505.7,290.9 506.9,290.8 508.1,290.5 509.3,290.5 510.5,290.6 511.7,290.8 512.9,290.8 514.1,290.7 515.3,290.7 516.5,290.7 517.7,290.8 518.9,290.8 520.1,290.9 521.3,290.8 522.5,290.8 523.7,290.9 524.9,290.9 526.1,290.8 527.3,290.5 528.5,290.8 529.7,290.9 530.9,290.7 532.1,290.9 533.3,290.6 534.5,290.9 535.7,290.7 536.9,290.8 538.1,290.7 539.3,290.7 540.5,290.7 541.7,290.7 542.9,290.6 544.1,290.7 545.3,291.0 546.5,290.8 547.7,290.9 548.9,290.9 550.1,290.9 551.3,291.0 552.5,290.9 553.7,290.7 554.9,290.7 556.1,290.7 557.3,290.6 558.5,290.7 559.7,290.9 560.9,291.0 562.1,290.7 563.3,290.9 564.5,290.9 565.7,291.0 566.9,290.9 568.1,290.8 569.3,290.6 570.5,290.9 571.7,290.7 572.9,290.9 574.1,290.8 575.3,290.8 576.5,291.0 577.7,290.7 578.9,290.8 580.1,290.9 581.3,290.8 582.5,291.0 583.7,290.8 584.9,291.0 586.1,290.9 587.3,291.0 588.5,290.7 589.7,290.7 590.9,290.7 592.1,291.0 593.3,290.6 594.5,290.7 595.7,290.9 596.9,291.0 598.1,290.7 599.3,290.8 600.5,290.9 601.7,290.9 602.9,291.0 604.1,291.0 605.3,290.8 606.5,290.8 607.7,290.7 608.9,290.9 610.1,290.7 611.3,290.8 612.5,291.1 613.7,290.9 614.9,290.9 616.1,290.9 617.3,290.9 618.5,291.0 619.7,290.8 620.9,290.7 622.1,290.7 623.3,290.7 624.5,290.8 625.7,290.7 626.9,290.7 628.1,290.9 629.3,291.1 630.5,291.0 631.7,290.8 632.9,291.0 634.1,290.8" fill="none" stroke="#000" stroke-width="1.8" stroke-linejoin="round" />
<polyline points="438.5,293.9 439.7,293.9 440.9,294.0 442.1,294.1 443.3,294.0 444.5,294.1 445.7,293.9 446.9,294.2 448.1,294.0 449.3,294.2 450.5,293.8 451.7,294.2 452.9,293.9 454.1,294.2 455.3,294.2 456.5,294.1 457.7,294.0 458.9,293.8 460.1,293.9 461.3,294.2 462.5,293.9 463.7,294.1 464.9,294.1 466.1,294.1 467.3,293.9 468.5,293.9 469.7,293.9 470.9,294.2 472.1,294.0 473.3,294.1 474.5,294.1 475.7,294.0 476.9,293.9 478.1,293.9 479.3,294.2 480.5,293.9 481.7,294.3 482.9,294.0 484.1,294.2 485.3,293.9 486.5,294.2 487.7,294.0 488.9,294.0 490.1,294.1 491.3,293.9 492.5,294.0 493.7,294.2 494.9,294.0 496.1,294.0 497.3,294.2 498.5,294.0 499.7,294.0 500.9,294.0 502.1,294.0 503.3,294.0 504.5,294.2 505.7,294.1 506.9,294.2 508.1,293.9 509.3,294.2 510.5,294.2 511.7,294.0 512.9,293.9 514.1,294.1 515.3,294.0 516.5,294.1 517.7,294.2 518.9,293.9 520.1,294.0 521.3,294.1 522.5,294.0 523.7,294.0 524.9,294.1 526.1,294.0 527.3,293.9 528.5,294.1 529.7,294.1 530.9,294.3 532.1,294.1 533.3,294.0 534.5,294.0 535.7,294.2 536.9,294.2 538.1,294.3 539.3,294.3 540.5,294.3 541.7,294.0 542.9,294.3 544.1,294.1 545.3,294.0 546.5,294.0 547.7,294.3 548.9,294.0 550.1,294.0 551.3,294.1 552.5,294.3 553.7,294.1 554.9,294.2 556.1,294.0 557.3,294.1 558.5,294.1 559.7,294.0 560.9,294.2 562.1,294.1 563.3,294.0 564.5,294.4 565.7,294.2 566.9,294.0 568.1,294.0 569.3,294.2 570.5,294.2 571.7,294.0 572.9,294.2 574.1,294.3 575.3,294.2 576.5,294.1 577.7,294.2 578.9,294.2 580.1,294.2 581.3,294.0 582.5,294.3 583.7,294.4 584.9,294.3 586.1,294.3 587.3,294.1 588.5,294.3 589.7,294.1 590.9,294.1 592.1,294.2 593.3,294.4 594.5,294.0 595.7,294.1 596.9,294.0 598.1,294.2 599.3,294.1 600.5,294.1 601.7,294.3 602.9,294.2 604.1,294.4 605.3,294.2 606.5,294.3 607.7,294.0 608.9,294.4 610.1,294.1 611.3,294.2 612.5,294.2 613.7,294.4 614.9,294.2 616.1,294.4 617.3,294.3 618.5,294.1 619.7,294.4 620.9,294.1 622.1,294.4 623.3,294.2 624.5,294.1 625.7,294.4 626.9,294.2 628.1,294.2 629.3,294.2 630.5,294.3 631.7,294.0 632.9,294.2 634.1,294.1" fill="none" stroke="#000" stroke-width="1.8" stroke-linejoin="round" />
<line x1="55.50" y1="448.75" x2="55.50" y2="626.90" stroke="#000" stroke-width="2.4"/>
<line x1="55.50" y1="449.71" x2="59.30" y2="449.71" stroke="#000" stroke-width="1.9"/>
<line x1="55.50" y1="469.29" x2="59.30" y2="469.29" stroke="#000" stroke-width="1.9"/>
<text x="50.90" y="473.39" font-size="14" text-anchor="end">40</text>
<line x1="55.50" y1="488.87" x2="59.30" y2="488.87" stroke="#000" stroke-width="1.9"/>
<line x1="55.50" y1="508.44" x2="59.30" y2="508.44" stroke="#000" stroke-width="1.9"/>
<text x="50.90" y="512.54" font-size="14" text-anchor="end">0</text>
<line x1="55.50" y1="528.01" x2="59.30" y2="528.01" stroke="#000" stroke-width="1.9"/>
<line x1="55.50" y1="547.59" x2="59.30" y2="547.59" stroke="#000" stroke-width="1.9"/>
<text x="50.90" y="551.69" font-size="14" text-anchor="end">-40</text>
<line x1="55.50" y1="567.16" x2="59.30" y2="567.16" stroke="#000" stroke-width="1.9"/>
<line x1="55.50" y1="586.74" x2="59.30" y2="586.74" stroke="#000" stroke-width="1.9"/>
<text x="50.90" y="590.84" font-size="14" text-anchor="end">-80</text>
<line x1="55.50" y1="606.32" x2="59.30" y2="606.32" stroke="#000" stroke-width="1.9"/>
<line x1="55.50" y1="625.89" x2="59.30" y2="625.89" stroke="#000" stroke-width="1.9"/>
<text x="50.90" y="629.99" font-size="14" text-anchor="end">-120</text>
<text x="21.10" y="533.00" font-size="14" text-anchor="middle" transform="rotate(-90 21.10 533.00)">Potential (mV)</text>
<path d="M66,547.59 L332.3,547.59 M93.7,547.59 L94.95,462.30 C95.00,460.62 96.07,459.50 97.75,459.50 L298.2,459.50 L298.20,459.50 L298.25,467.16 L298.30,474.15 L298.35,480.53 L298.40,486.36 L298.45,491.68 L298.50,496.54 L298.55,500.97 L298.60,505.02 L298.65,508.72 L298.70,512.10 L298.75,515.18 L298.80,518.00 L298.85,520.57 L298.90,522.92 L298.95,525.06 L299.00,527.02 L299.05,528.81 L299.10,530.44 L299.15,531.93 L299.20,533.29 L299.45,538.51 L299.70,541.83 L299.95,543.93 L300.20,545.27 L300.45,546.12 L300.70,546.65 L300.95,547.00 L301.20,547.21 L301.45,547.35 L301.70,547.44 L301.95,547.49 L302.20,547.53 L302.45,547.55 L302.70,547.57 L302.95,547.57 L303.20,547.58 L303.45,547.58 L303.70,547.59 L303.95,547.59 L304.20,547.59 L304.45,547.59 L304.70,547.59 L304.95,547.59 M93.7,547.59 L94.85,472.09 C94.90,470.41 95.97,469.29 97.65,469.29 L298.2,469.29 L298.20,469.29 L298.25,476.09 L298.30,482.31 L298.35,487.98 L298.40,493.16 L298.45,497.89 L298.50,502.21 L298.55,506.15 L298.60,509.75 L298.65,513.04 L298.70,516.04 L298.75,518.79 L298.80,521.29 L298.85,523.57 L298.90,525.66 L298.95,527.57 L299.00,529.31 L299.05,530.90 L299.10,532.35 L299.15,533.67 L299.20,534.88 L299.45,539.52 L299.70,542.47 L299.95,544.34 L300.20,545.53 L300.45,546.28 L300.70,546.76 L300.95,547.06 L301.20,547.26 L301.45,547.38 L301.70,547.46 L301.95,547.50 L302.20,547.54 L302.45,547.56 L302.70,547.57 L302.95,547.58 L303.20,547.58 L303.45,547.58 L303.70,547.59 L303.95,547.59 L304.20,547.59 L304.45,547.59 L304.70,547.59 L304.95,547.59 M93.7,547.59 L94.75,481.88 C94.80,480.20 95.87,479.08 97.55,479.08 L298.2,479.08 L298.20,479.08 L298.25,485.03 L298.30,490.47 L298.35,495.43 L298.40,499.96 L298.45,504.10 L298.50,507.88 L298.55,511.33 L298.60,514.48 L298.65,517.36 L298.70,519.99 L298.75,522.39 L298.80,524.58 L298.85,526.58 L298.90,528.40 L298.95,530.07 L299.00,531.59 L299.05,532.98 L299.10,534.25 L299.15,535.41 L299.20,536.47 L299.45,540.53 L299.70,543.11 L299.95,544.75 L300.20,545.78 L300.45,546.44 L300.70,546.86 L300.95,547.13 L301.20,547.30 L301.45,547.40 L301.70,547.47 L301.95,547.52 L302.20,547.54 L302.45,547.56 L302.70,547.57 L302.95,547.58 L303.20,547.58 L303.45,547.59 L303.70,547.59 L303.95,547.59 L304.20,547.59 L304.45,547.59 L304.70,547.59 L304.95,547.59 M93.7,547.59 L94.65,491.67 C94.70,489.99 95.77,488.87 97.45,488.87 L298.2,488.87 L298.20,488.87 L298.25,493.97 L298.30,498.63 L298.35,502.88 L298.40,506.77 L298.45,510.32 L298.50,513.55 L298.55,516.51 L298.60,519.21 L298.65,521.68 L298.70,523.93 L298.75,525.99 L298.80,527.86 L298.85,529.58 L298.90,531.14 L298.95,532.57 L299.00,533.88 L299.05,535.07 L299.10,536.16 L299.15,537.15 L299.20,538.06 L299.45,541.54 L299.70,543.75 L299.95,545.15 L300.20,546.04 L300.45,546.61 L300.70,546.97 L300.95,547.19 L301.20,547.34 L301.45,547.43 L301.70,547.49 L301.95,547.53 L302.20,547.55 L302.45,547.56 L302.70,547.57 L302.95,547.58 L303.20,547.58 L303.45,547.59 L303.70,547.59 L303.95,547.59 L304.20,547.59 L304.45,547.59 L304.70,547.59 L304.95,547.59 M93.7,547.59 L94.55,501.45 C94.60,499.77 95.67,498.65 97.35,498.65 L298.2,498.65 L298.20,498.65 L298.25,502.91 L298.30,506.79 L298.35,510.33 L298.40,513.57 L298.45,516.53 L298.50,519.23 L298.55,521.69 L298.60,523.94 L298.65,526.00 L298.70,527.87 L298.75,529.59 L298.80,531.15 L298.85,532.58 L298.90,533.88 L298.95,535.08 L299.00,536.16 L299.05,537.16 L299.10,538.06 L299.15,538.89 L299.20,539.65 L299.45,542.55 L299.70,544.39 L299.95,545.56 L300.20,546.30 L300.45,546.77 L300.70,547.07 L300.95,547.26 L301.20,547.38 L301.45,547.46 L301.70,547.51 L301.95,547.54 L302.20,547.56 L302.45,547.57 L302.70,547.58 L302.95,547.58 L303.20,547.58 L303.45,547.59 L303.70,547.59 L303.95,547.59 L304.20,547.59 L304.45,547.59 L304.70,547.59 L304.95,547.59 M93.7,547.59 L94.45,511.24 C94.50,509.56 95.57,508.44 97.25,508.44 L298.2,508.44 L298.20,508.44 L298.25,511.84 L298.30,514.95 L298.35,517.79 L298.40,520.38 L298.45,522.74 L298.50,524.90 L298.55,526.87 L298.60,528.67 L298.65,530.32 L298.70,531.82 L298.75,533.19 L298.80,534.44 L298.85,535.58 L298.90,536.63 L298.95,537.58 L299.00,538.45 L299.05,539.24 L299.10,539.97 L299.15,540.63 L299.20,541.24 L299.45,543.56 L299.70,545.03 L299.95,545.96 L300.20,546.56 L300.45,546.94 L300.70,547.17 L300.95,547.33 L301.20,547.42 L301.45,547.48 L301.70,547.52 L301.95,547.55 L302.20,547.56 L302.45,547.57 L302.70,547.58 L302.95,547.58 L303.20,547.59 L303.45,547.59 L303.70,547.59 L303.95,547.59 L304.20,547.59 L304.45,547.59 L304.70,547.59 L304.95,547.59 M93.7,547.59 L94.35,521.03 C94.40,519.35 95.47,518.23 97.15,518.23 L298.2,518.23 L298.20,518.23 L298.25,520.78 L298.30,523.11 L298.35,525.24 L298.40,527.18 L298.45,528.95 L298.50,530.57 L298.55,532.05 L298.60,533.40 L298.65,534.63 L298.70,535.76 L298.75,536.79 L298.80,537.73 L298.85,538.58 L298.90,539.37 L298.95,540.08 L299.00,540.73 L299.05,541.33 L299.10,541.87 L299.15,542.37 L299.20,542.82 L299.45,544.56 L299.70,545.67 L299.95,546.37 L300.20,546.82 L300.45,547.10 L300.70,547.28 L300.95,547.39 L301.20,547.46 L301.45,547.51 L301.70,547.54 L301.95,547.56 L302.20,547.57 L302.45,547.58 L302.70,547.58 L302.95,547.58 L303.20,547.59 L303.45,547.59 L303.70,547.59 L303.95,547.59 L304.20,547.59 L304.45,547.59 L304.70,547.59 L304.95,547.59 M93.7,547.59 L94.25,530.81 C94.30,529.13 95.37,528.01 97.05,528.01 L298.2,528.01 L298.20,528.01 L298.25,529.72 L298.30,531.27 L298.35,532.69 L298.40,533.98 L298.45,535.17 L298.50,536.24 L298.55,537.23 L298.60,538.13 L298.65,538.95 L298.70,539.70 L298.75,540.39 L298.80,541.01 L298.85,541.59 L298.90,542.11 L298.95,542.58 L299.00,543.02 L299.05,543.42 L299.10,543.78 L299.15,544.11 L299.20,544.41 L299.45,545.57 L299.70,546.31 L299.95,546.78 L300.20,547.07 L300.45,547.26 L300.70,547.38 L300.95,547.46 L301.20,547.51 L301.45,547.54 L301.70,547.56 L301.95,547.57 L302.20,547.58 L302.45,547.58 L302.70,547.58 L302.95,547.59 L303.20,547.59 L303.45,547.59 L303.70,547.59 L303.95,547.59 L304.20,547.59 L304.45,547.59 L304.70,547.59 L304.95,547.59 M93.7,547.59 L94.15,540.60 C94.20,538.92 95.27,537.80 96.95,537.80 L298.2,537.80 L298.20,537.80 L298.25,538.65 L298.30,539.43 L298.35,540.14 L298.40,540.79 L298.45,541.38 L298.50,541.92 L298.55,542.41 L298.60,542.86 L298.65,543.27 L298.70,543.65 L298.75,543.99 L298.80,544.30 L298.85,544.59 L298.90,544.85 L298.95,545.09 L299.00,545.30 L299.05,545.50 L299.10,545.68 L299.15,545.85 L299.20,546.00 L299.45,546.58 L299.70,546.95 L299.95,547.18 L300.20,547.33 L300.45,547.43 L300.70,547.49 L300.95,547.52 L301.20,547.55 L301.45,547.56 L301.70,547.57 L301.95,547.58 L302.20,547.58 L302.45,547.59 L302.70,547.59 L302.95,547.59 L303.20,547.59 L303.45,547.59 L303.70,547.59 L303.95,547.59 L304.20,547.59 L304.45,547.59 L304.70,547.59 L304.95,547.59 M93.7,547.59 L94.15,554.58 C94.20,556.26 95.27,557.38 96.95,557.38 L298.2,557.38 L298.20,557.38 L298.25,556.53 L298.30,555.75 L298.35,555.04 L298.40,554.39 L298.45,553.80 L298.50,553.26 L298.55,552.77 L298.60,552.32 L298.65,551.91 L298.70,551.53 L298.75,551.19 L298.80,550.88 L298.85,550.59 L298.90,550.33 L298.95,550.09 L299.00,549.88 L299.05,549.68 L299.10,549.50 L299.15,549.33 L299.20,549.18 L299.45,548.60 L299.70,548.23 L299.95,548.00 L300.20,547.85 L300.45,547.75 L300.70,547.69 L300.95,547.66 L301.20,547.63 L301.45,547.62 L301.70,547.61 L301.95,547.60 L302.20,547.60 L302.45,547.59 L302.70,547.59 L302.95,547.59 L303.20,547.59 L303.45,547.59 L303.70,547.59 L303.95,547.59 L304.20,547.59 L304.45,547.59 L304.70,547.59 L304.95,547.59 M93.7,547.59 L94.25,564.37 C94.30,566.04 95.37,567.16 97.05,567.16 L298.2,567.16 L298.20,567.16 L298.25,565.46 L298.30,563.91 L298.35,562.49 L298.40,561.20 L298.45,560.01 L298.50,558.94 L298.55,557.95 L298.60,557.05 L298.65,556.23 L298.70,555.48 L298.75,554.79 L298.80,554.17 L298.85,553.59 L298.90,553.07 L298.95,552.60 L299.00,552.16 L299.05,551.76 L299.10,551.40 L299.15,551.07 L299.20,550.77 L299.45,549.61 L299.70,548.87 L299.95,548.40 L300.20,548.11 L300.45,547.92 L300.70,547.80 L300.95,547.72 L301.20,547.67 L301.45,547.64 L301.70,547.62 L301.95,547.61 L302.20,547.60 L302.45,547.60 L302.70,547.60 L302.95,547.59 L303.20,547.59 L303.45,547.59 L303.70,547.59 L303.95,547.59 L304.20,547.59 L304.45,547.59 L304.70,547.59 L304.95,547.59 M93.7,547.59 L94.35,574.15 C94.40,575.83 95.47,576.95 97.15,576.95 L298.2,576.95 L298.20,576.95 L298.25,574.40 L298.30,572.07 L298.35,569.94 L298.40,568.00 L298.45,566.23 L298.50,564.61 L298.55,563.13 L298.60,561.78 L298.65,560.55 L298.70,559.42 L298.75,558.39 L298.80,557.45 L298.85,556.60 L298.90,555.81 L298.95,555.10 L299.00,554.45 L299.05,553.85 L299.10,553.31 L299.15,552.81 L299.20,552.36 L299.45,550.62 L299.70,549.51 L299.95,548.81 L300.20,548.36 L300.45,548.08 L300.70,547.90 L300.95,547.79 L301.20,547.72 L301.45,547.67 L301.70,547.64 L301.95,547.62 L302.20,547.61 L302.45,547.60 L302.70,547.60 L302.95,547.60 L303.20,547.59 L303.45,547.59 L303.70,547.59 L303.95,547.59 L304.20,547.59 L304.45,547.59 L304.70,547.59 L304.95,547.59 M93.7,547.59 L94.45,583.94 C94.50,585.62 95.57,586.74 97.25,586.74 L298.2,586.74 L298.20,586.74 L298.25,583.34 L298.30,580.23 L298.35,577.39 L298.40,574.80 L298.45,572.44 L298.50,570.28 L298.55,568.31 L298.60,566.51 L298.65,564.86 L298.70,563.36 L298.75,561.99 L298.80,560.74 L298.85,559.60 L298.90,558.55 L298.95,557.60 L299.00,556.73 L299.05,555.94 L299.10,555.21 L299.15,554.55 L299.20,553.94 L299.45,551.62 L299.70,550.15 L299.95,549.22 L300.20,548.62 L300.45,548.24 L300.70,548.01 L300.95,547.85 L301.20,547.76 L301.45,547.70 L301.70,547.66 L301.95,547.63 L302.20,547.62 L302.45,547.61 L302.70,547.60 L302.95,547.60 L303.20,547.59 L303.45,547.59 L303.70,547.59 L303.95,547.59 L304.20,547.59 L304.45,547.59 L304.70,547.59 L304.95,547.59 M93.7,547.59 L94.55,593.73 C94.60,595.41 95.67,596.53 97.35,596.53 L298.2,596.53 L298.20,596.53 L298.25,592.27 L298.30,588.39 L298.35,584.85 L298.40,581.61 L298.45,578.65 L298.50,575.95 L298.55,573.49 L298.60,571.24 L298.65,569.18 L298.70,567.31 L298.75,565.59 L298.80,564.03 L298.85,562.60 L298.90,561.30 L298.95,560.10 L299.00,559.02 L299.05,558.02 L299.10,557.12 L299.15,556.29 L299.20,555.53 L299.45,552.63 L299.70,550.79 L299.95,549.62 L300.20,548.88 L300.45,548.41 L300.70,548.11 L300.95,547.92 L301.20,547.80 L301.45,547.72 L301.70,547.67 L301.95,547.64 L302.20,547.62 L302.45,547.61 L302.70,547.60 L302.95,547.60 L303.20,547.60 L303.45,547.59 L303.70,547.59 L303.95,547.59 L304.20,547.59 L304.45,547.59 L304.70,547.59 L304.95,547.59 M93.7,547.59 L94.65,603.52 C94.70,605.20 95.77,606.32 97.45,606.32 L298.2,606.32 L298.20,606.32 L298.25,601.21 L298.30,596.55 L298.35,592.30 L298.40,588.41 L298.45,584.86 L298.50,581.63 L298.55,578.67 L298.60,575.97 L298.65,573.50 L298.70,571.25 L298.75,569.19 L298.80,567.32 L298.85,565.60 L298.90,564.04 L298.95,562.61 L299.00,561.30 L299.05,560.11 L299.10,559.02 L299.15,558.03 L299.20,557.12 L299.45,553.64 L299.70,551.43 L299.95,550.03 L300.20,549.14 L300.45,548.57 L300.70,548.21 L300.95,547.99 L301.20,547.84 L301.45,547.75 L301.70,547.69 L301.95,547.65 L302.20,547.63 L302.45,547.62 L302.70,547.61 L302.95,547.60 L303.20,547.60 L303.45,547.59 L303.70,547.59 L303.95,547.59 L304.20,547.59 L304.45,547.59 L304.70,547.59 L304.95,547.59 M93.7,547.59 L94.75,613.30 C94.80,614.98 95.87,616.10 97.55,616.10 L298.2,616.10 L298.20,616.10 L298.25,610.15 L298.30,604.71 L298.35,599.75 L298.40,595.22 L298.45,591.08 L298.50,587.30 L298.55,583.85 L298.60,580.70 L298.65,577.82 L298.70,575.19 L298.75,572.79 L298.80,570.60 L298.85,568.60 L298.90,566.78 L298.95,565.11 L299.00,563.59 L299.05,562.20 L299.10,560.93 L299.15,559.77 L299.20,558.71 L299.45,554.65 L299.70,552.07 L299.95,550.43 L300.20,549.40 L300.45,548.74 L300.70,548.32 L300.95,548.05 L301.20,547.88 L301.45,547.78 L301.70,547.71 L301.95,547.66 L302.20,547.64 L302.45,547.62 L302.70,547.61 L302.95,547.60 L303.20,547.60 L303.45,547.59 L303.70,547.59 L303.95,547.59 L304.20,547.59 L304.45,547.59 L304.70,547.59 L304.95,547.59" fill="none" stroke="#000" stroke-width="1.55" stroke-linejoin="round"/>
<line x1="396.00" y1="451.10" x2="396.00" y2="628.60" stroke="#000" stroke-width="2.3"/>
<line x1="396.00" y1="483.30" x2="401.20" y2="483.30" stroke="#000" stroke-width="1.9"/>
<text x="392.10" y="487.40" font-size="14" text-anchor="end">0</text>
<line x1="396.00" y1="523.70" x2="401.20" y2="523.70" stroke="#000" stroke-width="1.9"/>
<text x="392.10" y="527.80" font-size="14" text-anchor="end">-500</text>
<line x1="396.00" y1="563.70" x2="401.20" y2="563.70" stroke="#000" stroke-width="1.9"/>
<text x="392.10" y="567.80" font-size="14" text-anchor="end">-1000</text>
<line x1="396.00" y1="604.00" x2="401.20" y2="604.00" stroke="#000" stroke-width="1.9"/>
<text x="392.10" y="608.10" font-size="14" text-anchor="end">-1500</text>
<text x="354.30" y="527.40" font-size="14" text-anchor="middle" transform="rotate(-90 354.30 527.40)">Current (nA)</text>
<line x1="405.90" y1="490.20" x2="428.70" y2="490.20" stroke="#000" stroke-width="2.6"/>
<line x1="643.20" y1="490.50" x2="672.10" y2="490.50" stroke="#000" stroke-width="2.9"/>
<text x="555.80" y="628.90" font-size="14" text-anchor="middle">KME + 10mM CsCl</text>
<path d="M438,488.2 L633.8,487.9 L633.8,492.7 L438,492.3 Z" fill="#050505"/>
<polyline points="438.0,462.2 439.2,461.9 440.4,462.1 441.6,461.9 442.8,461.9 444.0,461.9 445.2,461.9 446.4,461.7 447.6,461.7 448.8,461.6 450.0,461.9 451.2,461.5 452.4,461.5 453.6,461.6 454.8,461.6 456.0,461.7 457.2,461.3 458.4,461.3 459.6,461.3 460.8,461.4 462.0,461.3 463.2,461.2 464.4,461.4 465.6,461.3 466.8,461.3 468.0,461.3 469.2,461.0 470.4,461.2 471.6,461.0 472.8,460.8 474.0,461.1 475.2,460.8 476.4,460.7 477.6,460.8 478.8,460.7 480.0,461.0 481.2,460.9 482.4,460.7 483.6,460.7 484.8,460.8 486.0,460.7 487.2,460.7 488.4,460.6 489.6,460.4 490.8,460.4 492.0,460.5 493.2,460.5 494.4,460.5 495.6,460.5 496.8,460.5 498.0,460.2 499.2,460.1 500.4,460.4 501.6,460.3 502.8,460.1 504.0,460.2 505.2,460.0 506.4,460.0 507.6,460.0 508.8,460.1 510.0,460.1 511.2,459.8 512.4,460.1 513.6,460.0 514.8,459.9 516.0,460.0 517.2,460.0 518.4,459.7 519.6,459.8 520.8,459.9 522.0,459.9 523.2,459.8 524.4,459.6 525.6,459.9 526.8,459.8 528.0,459.5 529.2,459.6 530.4,459.8 531.6,459.5 532.8,459.5 534.0,459.7 535.2,459.7 536.4,459.4 537.6,459.6 538.8,459.4 540.0,459.5 541.2,459.5 542.4,459.2 543.6,459.3 544.8,459.2 546.0,459.2 547.2,459.1 548.4,459.1 549.6,459.2 550.8,459.2 552.0,459.1 553.2,459.2 554.4,459.4 555.6,459.2 556.8,459.1 558.0,459.2 559.2,459.1 560.4,459.0 561.6,459.1 562.8,458.9 564.0,459.1 565.2,458.9 566.4,459.0 567.6,459.2 568.8,459.1 570.0,459.1 571.2,459.0 572.4,459.0 573.6,459.0 574.8,459.1 576.0,458.8 577.2,459.0 578.4,458.8 579.6,458.8 580.8,459.0 582.0,458.9 583.2,459.0 584.4,459.0 585.6,458.8 586.8,458.7 588.0,458.6 589.2,458.8 590.4,458.8 591.6,458.6 592.8,458.6 594.0,458.5 595.2,458.6 596.4,458.8 597.6,458.5 598.8,458.6 600.0,458.6 601.2,458.7 602.4,458.8 603.6,458.4 604.8,458.5 606.0,458.8 607.2,458.8 608.4,458.5 609.6,458.5 610.8,458.6 612.0,458.5 613.2,458.5 614.4,458.6 615.6,458.5 616.8,458.4 618.0,458.4 619.2,458.4 620.4,458.4 621.6,458.6 622.8,458.6 624.0,458.4 625.2,458.6 626.4,458.6 627.6,458.5 628.8,458.5 630.0,458.4 631.2,458.7 632.4,458.5 633.6,458.3" fill="none" stroke="#000" stroke-width="1.7" stroke-linejoin="round" />
<polyline points="438.0,466.7 439.2,466.9 440.4,466.7 441.6,466.8 442.8,466.6 444.0,466.8 445.2,466.8 446.4,466.5 447.6,466.7 448.8,466.5 450.0,466.7 451.2,466.7 452.4,466.6 453.6,466.4 454.8,466.3 456.0,466.5 457.2,466.5 458.4,466.3 459.6,466.3 460.8,466.4 462.0,466.2 463.2,466.4 464.4,466.2 465.6,466.2 466.8,466.3 468.0,466.3 469.2,466.3 470.4,466.0 471.6,466.3 472.8,466.1 474.0,466.1 475.2,466.2 476.4,466.2 477.6,466.2 478.8,466.3 480.0,466.0 481.2,466.0 482.4,466.1 483.6,465.9 484.8,465.9 486.0,465.9 487.2,466.1 488.4,466.1 489.6,466.0 490.8,466.1 492.0,466.0 493.2,465.8 494.4,465.8 495.6,465.9 496.8,465.7 498.0,465.9 499.2,465.6 500.4,465.6 501.6,465.8 502.8,465.6 504.0,465.9 505.2,465.9 506.4,465.7 507.6,465.6 508.8,465.5 510.0,465.7 511.2,465.7 512.4,465.6 513.6,465.7 514.8,465.6 516.0,465.7 517.2,465.4 518.4,465.4 519.6,465.5 520.8,465.5 522.0,465.4 523.2,465.6 524.4,465.4 525.6,465.4 526.8,465.5 528.0,465.6 529.2,465.6 530.4,465.4 531.6,465.4 532.8,465.6 534.0,465.6 535.2,465.5 536.4,465.2 537.6,465.4 538.8,465.4 540.0,465.3 541.2,465.2 542.4,465.5 543.6,465.5 544.8,465.2 546.0,465.3 547.2,465.4 548.4,465.2 549.6,465.1 550.8,465.4 552.0,465.4 553.2,465.2 554.4,465.1 555.6,465.2 556.8,465.1 558.0,465.4 559.2,465.0 560.4,465.1 561.6,465.3 562.8,465.0 564.0,465.0 565.2,465.0 566.4,465.0 567.6,465.2 568.8,465.3 570.0,465.0 571.2,465.0 572.4,465.2 573.6,465.1 574.8,465.1 576.0,465.0 577.2,465.0 578.4,465.3 579.6,464.9 580.8,465.0 582.0,465.2 583.2,465.2 584.4,465.2 585.6,465.1 586.8,465.3 588.0,465.1 589.2,465.0 590.4,465.0 591.6,465.1 592.8,465.1 594.0,464.9 595.2,464.9 596.4,465.2 597.6,464.9 598.8,465.2 600.0,465.0 601.2,464.9 602.4,464.9 603.6,465.0 604.8,465.2 606.0,464.9 607.2,465.2 608.4,464.9 609.6,464.9 610.8,465.1 612.0,464.9 613.2,464.9 614.4,465.0 615.6,465.1 616.8,465.1 618.0,465.0 619.2,464.8 620.4,465.1 621.6,465.0 622.8,465.2 624.0,465.2 625.2,464.9 626.4,465.1 627.6,465.1 628.8,464.9 630.0,464.9 631.2,464.9 632.4,464.9 633.6,465.0" fill="none" stroke="#000" stroke-width="1.7" stroke-linejoin="round" />
<polyline points="438.0,469.8 439.2,469.9 440.4,470.1 441.6,469.9 442.8,470.0 444.0,470.1 445.2,470.0 446.4,469.8 447.6,470.1 448.8,470.0 450.0,470.1 451.2,469.9 452.4,469.9 453.6,470.0 454.8,469.7 456.0,469.9 457.2,469.7 458.4,469.9 459.6,469.6 460.8,469.8 462.0,469.7 463.2,469.9 464.4,469.7 465.6,469.9 466.8,469.8 468.0,469.9 469.2,469.5 470.4,469.9 471.6,469.8 472.8,469.7 474.0,469.7 475.2,469.5 476.4,469.8 477.6,469.6 478.8,469.6 480.0,469.5 481.2,469.7 482.4,469.7 483.6,469.7 484.8,469.5 486.0,469.5 487.2,469.5 488.4,469.4 489.6,469.5 490.8,469.4 492.0,469.7 493.2,469.4 494.4,469.3 495.6,469.3 496.8,469.6 498.0,469.4 499.2,469.5 500.4,469.5 501.6,469.6 502.8,469.7 504.0,469.4 505.2,469.5 506.4,469.6 507.6,469.4 508.8,469.6 510.0,469.5 511.2,469.4 512.4,469.6 513.6,469.5 514.8,469.3 516.0,469.5 517.2,469.6 518.4,469.4 519.6,469.4 520.8,469.4 522.0,469.6 523.2,469.5 524.4,469.3 525.6,469.4 526.8,469.4 528.0,469.6 529.2,469.5 530.4,469.3 531.6,469.6 532.8,469.2 534.0,469.4 535.2,469.4 536.4,469.5 537.6,469.4 538.8,469.2 540.0,469.4 541.2,469.5 542.4,469.5 543.6,469.3 544.8,469.3 546.0,469.5 547.2,469.5 548.4,469.3 549.6,469.6 550.8,469.6 552.0,469.4 553.2,469.4 554.4,469.5 555.6,469.6 556.8,469.3 558.0,469.3 559.2,469.4 560.4,469.5 561.6,469.3 562.8,469.4 564.0,469.4 565.2,469.5 566.4,469.3 567.6,469.6 568.8,469.6 570.0,469.5 571.2,469.6 572.4,469.3 573.6,469.6 574.8,469.5 576.0,469.6 577.2,469.6 578.4,469.4 579.6,469.7 580.8,469.4 582.0,469.3 583.2,469.5 584.4,469.7 585.6,469.7 586.8,469.7 588.0,469.5 589.2,469.7 590.4,469.6 591.6,469.4 592.8,469.6 594.0,469.7 595.2,469.5 596.4,469.6 597.6,469.5 598.8,469.5 600.0,469.6 601.2,469.6 602.4,469.6 603.6,469.5 604.8,469.4 606.0,469.6 607.2,469.7 608.4,469.8 609.6,469.6 610.8,469.6 612.0,469.7 613.2,469.6 614.4,469.8 615.6,469.9 616.8,469.6 618.0,469.8 619.2,469.8 620.4,469.9 621.6,469.9 622.8,469.9 624.0,469.7 625.2,469.9 626.4,470.0 627.6,469.7 628.8,470.0 630.0,469.8 631.2,469.7 632.4,469.7 633.6,470.0" fill="none" stroke="#000" stroke-width="1.7" stroke-linejoin="round" />
<polyline points="438.0,473.7 439.2,473.4 440.4,473.6 441.6,473.6 442.8,473.8 444.0,473.5 445.2,473.6 446.4,473.4 447.6,473.4 448.8,473.4 450.0,473.5 451.2,473.5 452.4,473.4 453.6,473.3 454.8,473.4 456.0,473.3 457.2,473.3 458.4,473.4 459.6,473.4 460.8,473.3 462.0,473.4 463.2,473.4 464.4,473.6 465.6,473.4 466.8,473.6 468.0,473.4 469.2,473.3 470.4,473.4 471.6,473.2 472.8,473.2 474.0,473.2 475.2,473.4 476.4,473.5 477.6,473.3 478.8,473.3 480.0,473.3 481.2,473.3 482.4,473.4 483.6,473.3 484.8,473.2 486.0,473.4 487.2,473.3 488.4,473.1 489.6,473.4 490.8,473.4 492.0,473.2 493.2,473.3 494.4,473.4 495.6,473.2 496.8,473.2 498.0,473.2 499.2,473.3 500.4,473.3 501.6,473.3 502.8,473.4 504.0,473.1 505.2,473.2 506.4,473.4 507.6,473.3 508.8,473.3 510.0,473.3 511.2,473.2 512.4,473.4 513.6,473.2 514.8,473.2 516.0,473.1 517.2,473.1 518.4,473.4 519.6,473.3 520.8,473.0 522.0,473.1 523.2,473.2 524.4,473.2 525.6,473.1 526.8,473.4 528.0,473.1 529.2,473.2 530.4,473.4 531.6,473.3 532.8,473.2 534.0,473.1 535.2,473.2 536.4,473.2 537.6,473.3 538.8,473.1 540.0,473.2 541.2,473.2 542.4,473.2 543.6,473.4 544.8,473.2 546.0,473.1 547.2,473.1 548.4,473.3 549.6,473.1 550.8,473.3 552.0,473.0 553.2,473.1 554.4,473.0 555.6,473.4 556.8,473.1 558.0,473.1 559.2,473.1 560.4,473.1 561.6,473.3 562.8,473.3 564.0,473.4 565.2,473.4 566.4,473.3 567.6,473.4 568.8,473.1 570.0,473.4 571.2,473.2 572.4,473.2 573.6,473.4 574.8,473.4 576.0,473.2 577.2,473.1 578.4,473.5 579.6,473.4 580.8,473.4 582.0,473.5 583.2,473.1 584.4,473.2 585.6,473.2 586.8,473.2 588.0,473.4 589.2,473.4 590.4,473.2 591.6,473.2 592.8,473.3 594.0,473.4 595.2,473.5 596.4,473.6 597.6,473.4 598.8,473.6 600.0,473.4 601.2,473.4 602.4,473.3 603.6,473.3 604.8,473.6 606.0,473.7 607.2,473.6 608.4,473.4 609.6,473.4 610.8,473.4 612.0,473.4 613.2,473.6 614.4,473.4 615.6,473.5 616.8,473.6 618.0,473.4 619.2,473.5 620.4,473.7 621.6,473.6 622.8,473.6 624.0,473.8 625.2,473.7 626.4,473.6 627.6,473.6 628.8,473.8 630.0,473.8 631.2,473.8 632.4,473.7 633.6,473.6" fill="none" stroke="#000" stroke-width="1.7" stroke-linejoin="round" />
<polyline points="438.0,476.6 439.2,476.7 440.4,476.8 441.6,476.5 442.8,476.8 444.0,476.8 445.2,476.7 446.4,476.5 447.6,476.8 448.8,476.7 450.0,476.8 451.2,476.7 452.4,476.8 453.6,476.7 454.8,476.9 456.0,476.9 457.2,476.9 458.4,476.8 459.6,476.6 460.8,476.7 462.0,476.6 463.2,476.9 464.4,476.8 465.6,476.8 466.8,476.8 468.0,476.9 469.2,476.8 470.4,476.6 471.6,476.8 472.8,476.6 474.0,476.8 475.2,476.6 476.4,476.9 477.6,476.7 478.8,476.6 480.0,476.9 481.2,476.6 482.4,476.9 483.6,476.9 484.8,476.6 486.0,476.9 487.2,476.8 488.4,476.9 489.6,476.8 490.8,476.7 492.0,477.0 493.2,476.6 494.4,476.9 495.6,476.6 496.8,476.7 498.0,476.6 499.2,477.0 500.4,476.8 501.6,476.9 502.8,476.7 504.0,476.9 505.2,476.9 506.4,476.7 507.6,476.8 508.8,476.9 510.0,476.7 511.2,476.9 512.4,476.8 513.6,476.8 514.8,477.0 516.0,477.1 517.2,477.1 518.4,476.9 519.6,476.9 520.8,477.0 522.0,477.0 523.2,476.9 524.4,477.1 525.6,476.9 526.8,477.1 528.0,476.9 529.2,476.8 530.4,477.1 531.6,476.8 532.8,477.1 534.0,476.8 535.2,477.2 536.4,477.0 537.6,477.1 538.8,476.9 540.0,477.1 541.2,477.0 542.4,476.9 543.6,477.2 544.8,476.9 546.0,477.1 547.2,476.9 548.4,477.2 549.6,477.3 550.8,476.9 552.0,477.1 553.2,477.1 554.4,477.2 555.6,477.2 556.8,477.1 558.0,477.3 559.2,477.0 560.4,477.0 561.6,477.3 562.8,477.1 564.0,477.1 565.2,477.2 566.4,477.2 567.6,477.1 568.8,477.4 570.0,477.3 571.2,477.4 572.4,477.2 573.6,477.5 574.8,477.2 576.0,477.5 577.2,477.4 578.4,477.5 579.6,477.5 580.8,477.4 582.0,477.4 583.2,477.5 584.4,477.4 585.6,477.3 586.8,477.6 588.0,477.6 589.2,477.5 590.4,477.6 591.6,477.4 592.8,477.5 594.0,477.6 595.2,477.7 596.4,477.7 597.6,477.4 598.8,477.6 600.0,477.6 601.2,477.5 602.4,477.5 603.6,477.5 604.8,477.6 606.0,477.6 607.2,477.6 608.4,477.6 609.6,477.7 610.8,477.8 612.0,477.8 613.2,477.6 614.4,477.9 615.6,477.7 616.8,478.0 618.0,478.0 619.2,477.7 620.4,477.9 621.6,478.0 622.8,477.8 624.0,477.9 625.2,477.8 626.4,477.7 627.6,477.8 628.8,477.8 630.0,477.9 631.2,478.0 632.4,478.0 633.6,478.2" fill="none" stroke="#000" stroke-width="1.7" stroke-linejoin="round" />
<polyline points="438.0,480.0 439.2,479.9 440.4,480.1 441.6,480.0 442.8,480.0 444.0,480.1 445.2,480.0 446.4,479.9 447.6,480.0 448.8,479.9 450.0,480.2 451.2,479.9 452.4,480.2 453.6,479.9 454.8,479.9 456.0,480.1 457.2,480.0 458.4,480.1 459.6,479.9 460.8,480.2 462.0,480.2 463.2,480.2 464.4,480.3 465.6,480.3 466.8,480.2 468.0,480.3 469.2,480.0 470.4,480.0 471.6,480.2 472.8,480.4 474.0,480.1 475.2,480.3 476.4,480.0 477.6,480.2 478.8,480.4 480.0,480.3 481.2,480.4 482.4,480.1 483.6,480.2 484.8,480.2 486.0,480.5 487.2,480.2 488.4,480.5 489.6,480.3 490.8,480.5 492.0,480.4 493.2,480.3 494.4,480.6 495.6,480.4 496.8,480.5 498.0,480.3 499.2,480.6 500.4,480.7 501.6,480.3 502.8,480.6 504.0,480.4 505.2,480.4 506.4,480.5 507.6,480.6 508.8,480.7 510.0,480.7 511.2,480.8 512.4,480.6 513.6,480.6 514.8,480.5 516.0,480.7 517.2,480.6 518.4,480.6 519.6,480.8 520.8,480.6 522.0,480.5 523.2,480.5 524.4,480.5 525.6,480.7 526.8,480.8 528.0,480.6 529.2,480.7 530.4,480.8 531.6,480.8 532.8,480.7 534.0,480.8 535.2,480.6 536.4,480.6 537.6,480.8 538.8,480.7 540.0,480.9 541.2,480.7 542.4,481.0 543.6,480.8 544.8,480.7 546.0,480.9 547.2,480.9 548.4,480.9 549.6,481.0 550.8,480.8 552.0,481.0 553.2,481.1 554.4,481.0 555.6,481.0 556.8,481.2 558.0,481.1 559.2,480.9 560.4,480.9 561.6,480.9 562.8,481.0 564.0,480.9 565.2,481.1 566.4,481.1 567.6,481.0 568.8,481.1 570.0,481.3 571.2,481.0 572.4,481.0 573.6,481.1 574.8,481.1 576.0,481.4 577.2,481.3 578.4,481.2 579.6,481.1 580.8,481.1 582.0,481.1 583.2,481.4 584.4,481.3 585.6,481.2 586.8,481.4 588.0,481.1 589.2,481.3 590.4,481.3 591.6,481.2 592.8,481.5 594.0,481.5 595.2,481.4 596.4,481.3 597.6,481.5 598.8,481.4 600.0,481.5 601.2,481.3 602.4,481.6 603.6,481.3 604.8,481.4 606.0,481.5 607.2,481.4 608.4,481.4 609.6,481.6 610.8,481.8 612.0,481.5 613.2,481.5 614.4,481.7 615.6,481.5 616.8,481.6 618.0,481.7 619.2,481.6 620.4,481.5 621.6,481.5 622.8,481.7 624.0,481.9 625.2,481.9 626.4,481.6 627.6,481.7 628.8,481.7 630.0,481.6 631.2,481.8 632.4,481.8 633.6,481.9" fill="none" stroke="#000" stroke-width="1.7" stroke-linejoin="round" />
<polyline points="438.0,482.5 439.2,482.8 440.4,482.8 441.6,482.7 442.8,482.6 444.0,482.7 445.2,482.6 446.4,482.8 447.6,482.9 448.8,482.8 450.0,483.0 451.2,482.7 452.4,483.0 453.6,483.0 454.8,482.8 456.0,482.9 457.2,482.8 458.4,483.0 459.6,483.1 460.8,483.0 462.0,483.1 463.2,483.0 464.4,483.2 465.6,483.0 466.8,483.3 468.0,483.1 469.2,483.0 470.4,483.1 471.6,483.3 472.8,483.4 474.0,483.3 475.2,483.2 476.4,483.5 477.6,483.4 478.8,483.2 480.0,483.3 481.2,483.5 482.4,483.2 483.6,483.3 484.8,483.4 486.0,483.6 487.2,483.7 488.4,483.5 489.6,483.7 490.8,483.7 492.0,483.7 493.2,483.7 494.4,483.8 495.6,483.7 496.8,483.9 498.0,483.7 499.2,483.6 500.4,483.7 501.6,483.8 502.8,483.7 504.0,483.7 505.2,483.8 506.4,483.9 507.6,483.7 508.8,483.8 510.0,483.9 511.2,483.9 512.4,483.9 513.6,484.0 514.8,483.8 516.0,484.0 517.2,483.9 518.4,484.1 519.6,484.1 520.8,484.2 522.0,484.1 523.2,484.0 524.4,484.3 525.6,484.1 526.8,484.1 528.0,484.1 529.2,484.2 530.4,484.3 531.6,484.4 532.8,484.2 534.0,484.4 535.2,484.2 536.4,484.3 537.6,484.3 538.8,484.3 540.0,484.3 541.2,484.5 542.4,484.5 543.6,484.3 544.8,484.3 546.0,484.6 547.2,484.5 548.4,484.5 549.6,484.6 550.8,484.6 552.0,484.4 553.2,484.4 554.4,484.5 555.6,484.4 556.8,484.8 558.0,484.6 559.2,484.7 560.4,484.8 561.6,484.8 562.8,484.6 564.0,484.6 565.2,484.6 566.4,484.8 567.6,484.8 568.8,484.8 570.0,484.7 571.2,484.7 572.4,484.8 573.6,484.9 574.8,485.0 576.0,485.0 577.2,485.0 578.4,484.9 579.6,484.9 580.8,484.8 582.0,485.1 583.2,484.8 584.4,484.8 585.6,484.9 586.8,485.2 588.0,485.1 589.2,484.9 590.4,485.2 591.6,485.2 592.8,485.0 594.0,484.9 595.2,485.2 596.4,485.0 597.6,485.0 598.8,485.3 600.0,485.1 601.2,485.1 602.4,485.2 603.6,485.1 604.8,485.0 606.0,485.2 607.2,485.2 608.4,485.0 609.6,485.2 610.8,485.4 612.0,485.2 613.2,485.4 614.4,485.3 615.6,485.2 616.8,485.1 618.0,485.4 619.2,485.4 620.4,485.3 621.6,485.3 622.8,485.5 624.0,485.6 625.2,485.3 626.4,485.5 627.6,485.5 628.8,485.4 630.0,485.3 631.2,485.4 632.4,485.5 633.6,485.5" fill="none" stroke="#000" stroke-width="1.7" stroke-linejoin="round" />
<polyline points="438.0,485.8 439.2,485.7 440.4,485.7 441.6,485.8 442.8,485.8 444.0,485.8 445.2,486.0 446.4,485.7 447.6,486.1 448.8,485.8 450.0,486.1 451.2,485.8 452.4,486.0 453.6,485.9 454.8,485.8 456.0,486.1 457.2,486.1 458.4,485.9 459.6,486.1 460.8,486.0 462.0,486.2 463.2,485.9 464.4,486.0 465.6,486.0 466.8,486.1 468.0,486.2 469.2,486.2 470.4,486.1 471.6,486.1 472.8,486.3 474.0,486.0 475.2,486.1 476.4,486.3 477.6,486.2 478.8,486.4 480.0,486.0 481.2,486.2 482.4,486.1 483.6,486.0 484.8,486.1 486.0,486.1 487.2,486.2 488.4,486.3 489.6,486.3 490.8,486.2 492.0,486.4 493.2,486.3 494.4,486.5 495.6,486.2 496.8,486.4 498.0,486.4 499.2,486.3 500.4,486.6 501.6,486.3 502.8,486.6 504.0,486.4 505.2,486.4 506.4,486.5 507.6,486.5 508.8,486.4 510.0,486.3 511.2,486.7 512.4,486.5 513.6,486.4 514.8,486.6 516.0,486.6 517.2,486.5 518.4,486.5 519.6,486.8 520.8,486.6 522.0,486.6 523.2,486.8 524.4,486.6 525.6,486.6 526.8,486.6 528.0,486.8 529.2,486.8 530.4,486.7 531.6,486.7 532.8,486.7 534.0,486.9 535.2,486.8 536.4,486.9 537.6,486.8 538.8,486.9 540.0,486.7 541.2,486.7 542.4,487.1 543.6,487.0 544.8,487.0 546.0,486.9 547.2,486.9 548.4,486.8 549.6,486.8 550.8,487.0 552.0,487.1 553.2,486.9 554.4,487.1 555.6,486.9 556.8,487.1 558.0,486.9 559.2,487.1 560.4,487.0 561.6,487.1 562.8,487.0 564.0,487.1 565.2,487.2 566.4,487.0 567.6,487.1 568.8,487.3 570.0,487.2 571.2,487.3 572.4,487.3 573.6,487.3 574.8,487.1 576.0,487.2 577.2,487.4 578.4,487.3 579.6,487.4 580.8,487.3 582.0,487.3 583.2,487.5 584.4,487.5 585.6,487.4 586.8,487.2 588.0,487.5 589.2,487.2 590.4,487.6 591.6,487.6 592.8,487.6 594.0,487.4 595.2,487.6 596.4,487.4 597.6,487.7 598.8,487.6 600.0,487.4 601.2,487.7 602.4,487.6 603.6,487.7 604.8,487.7 606.0,487.6 607.2,487.8 608.4,487.5 609.6,487.8 610.8,487.6 612.0,487.5 613.2,487.7 614.4,487.6 615.6,487.6 616.8,487.8 618.0,487.6 619.2,487.7 620.4,487.7 621.6,487.7 622.8,488.0 624.0,488.0 625.2,488.0 626.4,488.1 627.6,487.9 628.8,488.0 630.0,487.9 631.2,488.1 632.4,488.1 633.6,488.1" fill="none" stroke="#000" stroke-width="1.7" stroke-linejoin="round" />
<polyline points="438.0,494.4 439.2,494.3 440.4,494.7 441.6,494.5 442.8,494.5 444.0,494.6 445.2,494.4 446.4,494.6 447.6,494.5 448.8,494.6 450.0,494.5 451.2,494.4 452.4,494.7 453.6,494.4 454.8,494.6 456.0,494.6 457.2,494.4 458.4,494.6 459.6,494.5 460.8,494.4 462.0,494.4 463.2,494.7 464.4,494.4 465.6,494.5 466.8,494.5 468.0,494.3 469.2,494.6 470.4,494.6 471.6,494.7 472.8,494.4 474.0,494.4 475.2,494.4 476.4,494.6 477.6,494.6 478.8,494.5 480.0,494.5 481.2,494.4 482.4,494.7 483.6,494.5 484.8,494.5 486.0,494.6 487.2,494.4 488.4,494.6 489.6,494.4 490.8,494.6 492.0,494.3 493.2,494.4 494.4,494.6 495.6,494.5 496.8,494.5 498.0,494.5 499.2,494.4 500.4,494.5 501.6,494.3 502.8,494.6 504.0,494.4 505.2,494.6 506.4,494.5 507.6,494.5 508.8,494.6 510.0,494.4 511.2,494.6 512.4,494.4 513.6,494.6 514.8,494.6 516.0,494.6 517.2,494.6 518.4,494.5 519.6,494.6 520.8,494.7 522.0,494.4 523.2,494.3 524.4,494.5 525.6,494.5 526.8,494.4 528.0,494.4 529.2,494.6 530.4,494.5 531.6,494.4 532.8,494.4 534.0,494.5 535.2,494.4 536.4,494.5 537.6,494.5 538.8,494.5 540.0,494.5 541.2,494.6 542.4,494.3 543.6,494.7 544.8,494.4 546.0,494.3 547.2,494.6 548.4,494.5 549.6,494.5 550.8,494.4 552.0,494.6 553.2,494.4 554.4,494.6 555.6,494.4 556.8,494.5 558.0,494.6 559.2,494.4 560.4,494.5 561.6,494.3 562.8,494.6 564.0,494.6 565.2,494.4 566.4,494.5 567.6,494.6 568.8,494.3 570.0,494.6 571.2,494.6 572.4,494.3 573.6,494.4 574.8,494.3 576.0,494.4 577.2,494.3 578.4,494.5 579.6,494.4 580.8,494.4 582.0,494.5 583.2,494.4 584.4,494.6 585.6,494.6 586.8,494.3 588.0,494.4 589.2,494.3 590.4,494.4 591.6,494.3 592.8,494.6 594.0,494.6 595.2,494.7 596.4,494.4 597.6,494.3 598.8,494.6 600.0,494.5 601.2,494.7 602.4,494.5 603.6,494.4 604.8,494.3 606.0,494.7 607.2,494.5 608.4,494.5 609.6,494.5 610.8,494.6 612.0,494.6 613.2,494.5 614.4,494.4 615.6,494.5 616.8,494.7 618.0,494.5 619.2,494.6 620.4,494.5 621.6,494.5 622.8,494.5 624.0,494.4 625.2,494.5 626.4,494.6 627.6,494.3 628.8,494.4 630.0,494.7 631.2,494.7 632.4,494.3 633.6,494.6" fill="none" stroke="#000" stroke-width="1.7" stroke-linejoin="round" />
<polyline points="438.0,496.6 439.2,496.7 440.4,496.5 441.6,496.4 442.8,496.5 444.0,496.7 445.2,496.7 446.4,496.5 447.6,496.7 448.8,496.7 450.0,496.7 451.2,496.5 452.4,496.6 453.6,496.6 454.8,496.7 456.0,496.6 457.2,496.6 458.4,496.8 459.6,496.7 460.8,496.9 462.0,496.7 463.2,496.8 464.4,496.9 465.6,496.6 466.8,496.9 468.0,496.6 469.2,497.0 470.4,496.7 471.6,496.9 472.8,496.8 474.0,496.7 475.2,496.8 476.4,496.9 477.6,496.9 478.8,496.8 480.0,496.9 481.2,496.8 482.4,497.1 483.6,496.9 484.8,496.9 486.0,496.8 487.2,497.2 488.4,496.9 489.6,497.0 490.8,497.1 492.0,496.9 493.2,497.1 494.4,496.9 495.6,496.9 496.8,496.8 498.0,497.0 499.2,497.2 500.4,496.9 501.6,497.0 502.8,497.1 504.0,497.0 505.2,496.9 506.4,497.1 507.6,497.0 508.8,497.2 510.0,497.2 511.2,497.0 512.4,497.1 513.6,497.0 514.8,496.9 516.0,497.1 517.2,497.3 518.4,497.0 519.6,497.1 520.8,497.2 522.0,496.9 523.2,497.3 524.4,496.9 525.6,497.0 526.8,497.2 528.0,496.9 529.2,497.1 530.4,497.0 531.6,497.1 532.8,496.9 534.0,497.0 535.2,497.0 536.4,496.9 537.6,496.9 538.8,497.0 540.0,497.1 541.2,497.0 542.4,497.2 543.6,497.1 544.8,497.0 546.0,497.0 547.2,497.2 548.4,496.9 549.6,497.2 550.8,496.9 552.0,497.3 553.2,497.0 554.4,497.1 555.6,497.2 556.8,496.9 558.0,496.9 559.2,497.1 560.4,497.1 561.6,497.1 562.8,496.9 564.0,497.0 565.2,496.9 566.4,497.0 567.6,496.9 568.8,497.0 570.0,496.9 571.2,496.9 572.4,497.0 573.6,496.8 574.8,497.1 576.0,497.0 577.2,496.9 578.4,496.8 579.6,497.0 580.8,496.9 582.0,497.0 583.2,496.9 584.4,496.9 585.6,497.1 586.8,496.8 588.0,497.1 589.2,497.0 590.4,497.1 591.6,497.0 592.8,496.8 594.0,497.0 595.2,496.9 596.4,496.7 597.6,497.0 598.8,496.9 600.0,496.9 601.2,496.8 602.4,496.6 603.6,496.9 604.8,496.6 606.0,496.6 607.2,496.8 608.4,496.6 609.6,496.7 610.8,496.8 612.0,496.5 613.2,496.7 614.4,496.5 615.6,496.6 616.8,496.7 618.0,496.7 619.2,496.4 620.4,496.5 621.6,496.7 622.8,496.5 624.0,496.5 625.2,496.5 626.4,496.6 627.6,496.6 628.8,496.5 630.0,496.4 631.2,496.5 632.4,496.4 633.6,496.3" fill="none" stroke="#000" stroke-width="1.7" stroke-linejoin="round" />
<polyline points="438.0,499.0 439.2,499.0 440.4,498.9 441.6,499.0 442.8,498.9 444.0,499.0 445.2,498.8 446.4,499.0 447.6,499.0 448.8,499.1 450.0,499.1 451.2,499.1 452.4,498.9 453.6,499.1 454.8,499.0 456.0,499.0 457.2,499.0 458.4,499.2 459.6,499.2 460.8,499.3 462.0,499.2 463.2,499.0 464.4,499.0 465.6,499.2 466.8,499.1 468.0,499.2 469.2,499.1 470.4,499.1 471.6,499.4 472.8,499.2 474.0,499.4 475.2,499.2 476.4,499.5 477.6,499.3 478.8,499.3 480.0,499.3 481.2,499.2 482.4,499.4 483.6,499.4 484.8,499.2 486.0,499.6 487.2,499.4 488.4,499.3 489.6,499.7 490.8,499.4 492.0,499.4 493.2,499.3 494.4,499.4 495.6,499.6 496.8,499.6 498.0,499.6 499.2,499.5 500.4,499.5 501.6,499.8 502.8,499.6 504.0,499.9 505.2,499.8 506.4,499.5 507.6,499.8 508.8,499.5 510.0,499.8 511.2,499.9 512.4,499.8 513.6,499.8 514.8,499.9 516.0,499.7 517.2,499.8 518.4,499.7 519.6,499.8 520.8,499.7 522.0,499.9 523.2,499.9 524.4,500.0 525.6,499.9 526.8,499.9 528.0,500.1 529.2,500.1 530.4,500.0 531.6,499.9 532.8,500.1 534.0,499.9 535.2,499.8 536.4,499.9 537.6,500.1 538.8,500.2 540.0,500.1 541.2,500.1 542.4,500.2 543.6,500.2 544.8,500.1 546.0,500.1 547.2,500.2 548.4,500.0 549.6,500.0 550.8,500.2 552.0,500.3 553.2,500.1 554.4,500.2 555.6,500.3 556.8,500.0 558.0,500.1 559.2,500.2 560.4,500.2 561.6,500.4 562.8,500.4 564.0,500.2 565.2,500.4 566.4,500.3 567.6,500.1 568.8,500.5 570.0,500.2 571.2,500.1 572.4,500.3 573.6,500.1 574.8,500.3 576.0,500.3 577.2,500.5 578.4,500.3 579.6,500.5 580.8,500.5 582.0,500.4 583.2,500.3 584.4,500.3 585.6,500.4 586.8,500.4 588.0,500.5 589.2,500.4 590.4,500.4 591.6,500.5 592.8,500.7 594.0,500.4 595.2,500.4 596.4,500.3 597.6,500.3 598.8,500.3 600.0,500.5 601.2,500.7 602.4,500.6 603.6,500.7 604.8,500.7 606.0,500.6 607.2,500.6 608.4,500.4 609.6,500.5 610.8,500.5 612.0,500.6 613.2,500.4 614.4,500.6 615.6,500.6 616.8,500.6 618.0,500.6 619.2,500.5 620.4,500.7 621.6,500.8 622.8,500.7 624.0,500.5 625.2,500.7 626.4,500.8 627.6,500.9 628.8,500.8 630.0,500.5 631.2,500.8 632.4,500.8 633.6,500.6" fill="none" stroke="#000" stroke-width="1.7" stroke-linejoin="round" />
<polyline points="438.0,501.8 439.2,501.8 440.4,501.8 441.6,501.6 442.8,501.8 444.0,501.8 445.2,501.8 446.4,502.0 447.6,502.0 448.8,501.9 450.0,502.0 451.2,502.2 452.4,502.1 453.6,502.3 454.8,502.2 456.0,502.4 457.2,502.1 458.4,502.3 459.6,502.3 460.8,502.5 462.0,502.6 463.2,502.5 464.4,502.5 465.6,502.6 466.8,502.6 468.0,502.7 469.2,502.8 470.4,502.5 471.6,502.6 472.8,502.9 474.0,502.6 475.2,502.9 476.4,502.6 477.6,502.9 478.8,503.0 480.0,502.8 481.2,502.9 482.4,502.9 483.6,503.1 484.8,503.1 486.0,503.1 487.2,503.1 488.4,503.2 489.6,503.4 490.8,503.3 492.0,503.4 493.2,503.2 494.4,503.3 495.6,503.3 496.8,503.3 498.0,503.5 499.2,503.3 500.4,503.5 501.6,503.6 502.8,503.7 504.0,503.4 505.2,503.5 506.4,503.6 507.6,503.8 508.8,503.5 510.0,503.8 511.2,503.7 512.4,503.8 513.6,503.9 514.8,503.6 516.0,503.7 517.2,503.7 518.4,503.7 519.6,503.8 520.8,504.0 522.0,504.0 523.2,503.8 524.4,504.1 525.6,504.0 526.8,503.9 528.0,504.2 529.2,504.2 530.4,504.0 531.6,504.3 532.8,504.3 534.0,504.1 535.2,504.0 536.4,504.4 537.6,504.4 538.8,504.1 540.0,504.4 541.2,504.4 542.4,504.4 543.6,504.5 544.8,504.5 546.0,504.3 547.2,504.5 548.4,504.6 549.6,504.3 550.8,504.5 552.0,504.5 553.2,504.6 554.4,504.5 555.6,504.4 556.8,504.4 558.0,504.6 559.2,504.4 560.4,504.7 561.6,504.7 562.8,504.5 564.0,504.7 565.2,504.7 566.4,504.5 567.6,504.8 568.8,504.8 570.0,504.6 571.2,504.5 572.4,504.6 573.6,504.8 574.8,504.7 576.0,504.9 577.2,504.6 578.4,504.6 579.6,504.7 580.8,504.9 582.0,504.7 583.2,504.6 584.4,504.9 585.6,504.7 586.8,504.9 588.0,504.7 589.2,504.8 590.4,504.9 591.6,505.0 592.8,504.8 594.0,504.9 595.2,504.7 596.4,504.8 597.6,504.8 598.8,505.0 600.0,505.0 601.2,505.0 602.4,505.0 603.6,505.0 604.8,504.8 606.0,504.9 607.2,504.9 608.4,504.9 609.6,505.1 610.8,504.9 612.0,504.9 613.2,504.9 614.4,505.1 615.6,505.0 616.8,505.0 618.0,504.9 619.2,505.2 620.4,505.2 621.6,505.0 622.8,505.0 624.0,505.1 625.2,504.9 626.4,504.9 627.6,504.8 628.8,505.0 630.0,505.1 631.2,504.9 632.4,505.0 633.6,505.2" fill="none" stroke="#000" stroke-width="1.7" stroke-linejoin="round" />
</svg>
</body></html>
